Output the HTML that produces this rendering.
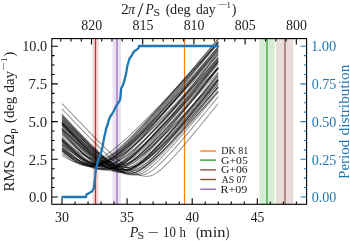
<!DOCTYPE html><html><head><meta charset="utf-8"><style>html,body{margin:0;padding:0;background:#fff;}svg{display:block;will-change:transform;}text{font-family:"Liberation Serif",serif;fill:#222;}</style></head><body>
<svg width="350" height="241" viewBox="0 0 350 241">
<rect width="350" height="241" fill="#fff"/>
<rect x="92.6" y="38.6" width="5.90" height="165.70" fill="#d62728" fill-opacity="0.2"/>
<rect x="112.6" y="38.6" width="8.40" height="165.70" fill="#9467bd" fill-opacity="0.2"/>
<rect x="259.4" y="38.6" width="15.40" height="165.70" fill="#2ca02c" fill-opacity="0.2"/>
<rect x="276.0" y="38.6" width="17.50" height="165.70" fill="#8c564b" fill-opacity="0.2"/>
<line x1="184.5" y1="38.6" x2="184.5" y2="204.3" stroke="#ff7f0e" stroke-width="1.2"/>
<line x1="267.0" y1="38.6" x2="267.0" y2="204.3" stroke="#2ca02c" stroke-width="1.2"/>
<line x1="285.0" y1="38.6" x2="285.0" y2="204.3" stroke="#8c564b" stroke-width="1.2"/>
<line x1="95.5" y1="38.6" x2="95.5" y2="204.3" stroke="#d62728" stroke-width="1.2"/>
<line x1="117.0" y1="38.6" x2="117.0" y2="204.3" stroke="#9467bd" stroke-width="1.2"/>
<clipPath id="ax"><rect x="51.8" y="38.6" width="254.80" height="165.70"/></clipPath>
<g clip-path="url(#ax)" fill="none" stroke="#000" stroke-opacity="0.42" stroke-width="1.05"><polyline points="62.00,152.83 63.63,154.19 65.25,155.51 66.88,156.78 68.51,157.99 70.14,159.14 71.77,160.22 73.39,161.23 75.02,162.17 76.65,163.01 78.28,163.77 79.90,164.42 81.53,164.98 83.16,165.42 84.78,165.75 86.41,165.96 88.04,166.05 89.67,166.02 91.30,165.87 92.92,165.59 94.55,165.20 96.18,164.70 97.81,164.09 99.43,163.38 101.06,162.58 102.69,161.69 104.31,160.71 105.94,159.66 107.57,158.54 109.20,157.35 110.82,156.11 112.45,154.82 114.08,153.47 115.71,152.09 117.34,150.66 118.96,149.20 120.59,147.70 122.22,146.17 123.84,144.62 125.47,143.04 127.10,141.44 128.73,139.82 130.36,138.17 131.98,136.51 133.61,134.84 135.24,133.14 136.87,131.44 138.49,129.72 140.12,127.99 141.75,126.25 143.38,124.50 145.00,122.74 146.63,120.97 148.26,119.19 149.88,117.40 151.51,115.61 153.14,113.81 154.77,112.00 156.39,110.19 158.02,108.38 159.65,106.55 161.28,104.73 162.91,102.89 164.53,101.06 166.16,99.22 167.79,97.37 169.41,95.52 171.04,93.67 172.67,91.82 174.30,89.96 175.93,88.10 177.55,86.24 179.18,84.37 180.81,82.50 182.44,80.63 184.06,78.76 185.69,76.88 187.32,75.00 188.94,73.12 190.57,71.24 192.20,69.36 193.83,67.47 195.45,65.59 197.08,63.70 198.71,61.81 200.34,59.92 201.97,58.02 203.59,56.13 205.22,54.24 206.85,52.34 208.47,50.44 210.10,48.54 211.73,46.64 213.36,44.74 214.98,42.84 216.61,40.94 218.24,39.03"/><polyline points="62.00,155.23 63.63,156.31 65.25,157.33 66.88,158.29 68.51,159.18 70.14,160.00 71.77,160.74 73.39,161.39 75.02,161.96 76.65,162.43 78.28,162.81 79.90,163.09 81.53,163.27 83.16,163.34 84.78,163.31 86.41,163.18 88.04,162.96 89.67,162.64 91.30,162.23 92.92,161.73 94.55,161.14 96.18,160.47 97.81,159.73 99.43,158.91 101.06,158.03 102.69,157.08 104.31,156.08 105.94,155.02 107.57,153.91 109.20,152.75 110.82,151.55 112.45,150.31 114.08,149.03 115.71,147.72 117.34,146.38 118.96,145.01 120.59,143.61 122.22,142.19 123.84,140.74 125.47,139.27 127.10,137.79 128.73,136.28 130.36,134.76 131.98,133.23 133.61,131.68 135.24,130.11 136.87,128.54 138.49,126.95 140.12,125.35 141.75,123.74 143.38,122.12 145.00,120.49 146.63,118.86 148.26,117.21 149.88,115.56 151.51,113.90 153.14,112.24 154.77,110.57 156.39,108.89 158.02,107.21 159.65,105.52 161.28,103.83 162.91,102.13 164.53,100.43 166.16,98.72 167.79,97.02 169.41,95.30 171.04,93.59 172.67,91.87 174.30,90.14 175.93,88.42 177.55,86.69 179.18,84.95 180.81,83.22 182.44,81.48 184.06,79.74 185.69,78.00 187.32,76.26 188.94,74.51 190.57,72.76 192.20,71.01 193.83,69.26 195.45,67.50 197.08,65.75 198.71,63.99 200.34,62.23 201.97,60.47 203.59,58.71 205.22,56.95 206.85,55.18 208.47,53.42 210.10,51.65 211.73,49.88 213.36,48.11 214.98,46.34 216.61,44.57 218.24,42.79"/><polyline points="62.00,150.76 63.63,152.16 65.25,153.52 66.88,154.84 68.51,156.12 70.14,157.35 71.77,158.53 73.39,159.66 75.02,160.72 76.65,161.71 78.28,162.63 79.90,163.47 81.53,164.22 83.16,164.88 84.78,165.44 86.41,165.90 88.04,166.25 89.67,166.50 91.30,166.62 92.92,166.63 94.55,166.52 96.18,166.28 97.81,165.91 99.43,165.43 101.06,164.84 102.69,164.14 104.31,163.34 105.94,162.44 107.57,161.46 109.20,160.41 110.82,159.27 112.45,158.07 114.08,156.82 115.71,155.50 117.34,154.14 118.96,152.73 120.59,151.28 122.22,149.80 123.84,148.28 125.47,146.72 127.10,145.15 128.73,143.54 130.36,141.91 131.98,140.26 133.61,138.59 135.24,136.91 136.87,135.21 138.49,133.49 140.12,131.76 141.75,130.01 143.38,128.25 145.00,126.49 146.63,124.71 148.26,122.92 149.88,121.13 151.51,119.32 153.14,117.51 154.77,115.69 156.39,113.87 158.02,112.04 159.65,110.20 161.28,108.36 162.91,106.51 164.53,104.66 166.16,102.80 167.79,100.94 169.41,99.07 171.04,97.20 172.67,95.33 174.30,93.45 175.93,91.57 177.55,89.69 179.18,87.81 180.81,85.92 182.44,84.03 184.06,82.14 185.69,80.24 187.32,78.34 188.94,76.44 190.57,74.54 192.20,72.64 193.83,70.73 195.45,68.82 197.08,66.92 198.71,65.01 200.34,63.09 201.97,61.18 203.59,59.26 205.22,57.35 206.85,55.43 208.47,53.51 210.10,51.59 211.73,49.67 213.36,47.75 214.98,45.82 216.61,43.90 218.24,41.97"/><polyline points="62.00,150.97 63.63,152.42 65.25,153.82 66.88,155.16 68.51,156.44 70.14,157.66 71.77,158.80 73.39,159.86 75.02,160.84 76.65,161.72 78.28,162.49 79.90,163.16 81.53,163.71 83.16,164.14 84.78,164.45 86.41,164.62 88.04,164.67 89.67,164.59 91.30,164.41 92.92,164.11 94.55,163.71 96.18,163.21 97.81,162.61 99.43,161.92 101.06,161.14 102.69,160.27 104.31,159.34 105.94,158.33 107.57,157.25 109.20,156.12 110.82,154.93 112.45,153.69 114.08,152.40 115.71,151.08 117.34,149.71 118.96,148.30 120.59,146.87 122.22,145.40 123.84,143.91 125.47,142.39 127.10,140.85 128.73,139.29 130.36,137.70 131.98,136.10 133.61,134.48 135.24,132.85 136.87,131.20 138.49,129.54 140.12,127.87 141.75,126.19 143.38,124.49 145.00,122.79 146.63,121.07 148.26,119.35 149.88,117.62 151.51,115.88 153.14,114.14 154.77,112.38 156.39,110.63 158.02,108.86 159.65,107.09 161.28,105.32 162.91,103.54 164.53,101.76 166.16,99.97 167.79,98.17 169.41,96.38 171.04,94.58 172.67,92.77 174.30,90.97 175.93,89.16 177.55,87.34 179.18,85.53 180.81,83.71 182.44,81.89 184.06,80.06 185.69,78.24 187.32,76.41 188.94,74.58 190.57,72.74 192.20,70.91 193.83,69.07 195.45,67.23 197.08,65.39 198.71,63.55 200.34,61.71 201.97,59.86 203.59,58.02 205.22,56.17 206.85,54.32 208.47,52.47 210.10,50.62 211.73,48.77 213.36,46.91 214.98,45.06 216.61,43.20 218.24,41.34"/><polyline points="62.00,148.79 63.63,150.32 65.25,151.81 66.88,153.26 68.51,154.65 70.14,155.99 71.77,157.27 73.39,158.47 75.02,159.60 76.65,160.65 78.28,161.60 79.90,162.46 81.53,163.21 83.16,163.85 84.78,164.37 86.41,164.77 88.04,165.04 89.67,165.17 91.30,165.18 92.92,165.06 94.55,164.83 96.18,164.48 97.81,164.03 99.43,163.47 101.06,162.81 102.69,162.05 104.31,161.21 105.94,160.29 107.57,159.29 109.20,158.22 110.82,157.08 112.45,155.88 114.08,154.64 115.71,153.34 117.34,151.99 118.96,150.61 120.59,149.18 122.22,147.73 123.84,146.24 125.47,144.72 127.10,143.18 128.73,141.61 130.36,140.02 131.98,138.41 133.61,136.78 135.24,135.13 136.87,133.47 138.49,131.79 140.12,130.10 141.75,128.39 143.38,126.68 145.00,124.95 146.63,123.21 148.26,121.47 149.88,119.71 151.51,117.95 153.14,116.18 154.77,114.40 156.39,112.62 158.02,110.83 159.65,109.03 161.28,107.23 162.91,105.42 164.53,103.61 166.16,101.79 167.79,99.97 169.41,98.15 171.04,96.32 172.67,94.48 174.30,92.65 175.93,90.81 177.55,88.97 179.18,87.12 180.81,85.27 182.44,83.42 184.06,81.57 185.69,79.71 187.32,77.85 188.94,75.99 190.57,74.13 192.20,72.26 193.83,70.39 195.45,68.53 197.08,66.65 198.71,64.78 200.34,62.91 201.97,61.03 203.59,59.16 205.22,57.28 206.85,55.40 208.47,53.52 210.10,51.63 211.73,49.75 213.36,47.86 214.98,45.98 216.61,44.09 218.24,42.20"/><polyline points="62.00,138.26 63.63,139.83 65.25,141.36 66.88,142.85 68.51,144.31 70.14,145.72 71.77,147.09 73.39,148.40 75.02,149.66 76.65,150.86 78.28,152.00 79.90,153.07 81.53,154.06 83.16,154.97 84.78,155.80 86.41,156.54 88.04,157.19 89.67,157.73 91.30,158.17 92.92,158.50 94.55,158.73 96.18,158.84 97.81,158.84 99.43,158.74 101.06,158.54 102.69,158.24 104.31,157.85 105.94,157.37 107.57,156.80 109.20,156.15 110.82,155.42 112.45,154.61 114.08,153.73 115.71,152.78 117.34,151.77 118.96,150.69 120.59,149.57 122.22,148.39 123.84,147.16 125.47,145.89 127.10,144.58 128.73,143.23 130.36,141.85 131.98,140.43 133.61,138.98 135.24,137.51 136.87,136.00 138.49,134.48 140.12,132.93 141.75,131.36 143.38,129.77 145.00,128.16 146.63,126.54 148.26,124.90 149.88,123.25 151.51,121.58 153.14,119.90 154.77,118.21 156.39,116.50 158.02,114.79 159.65,113.06 161.28,111.33 162.91,109.59 164.53,107.84 166.16,106.08 167.79,104.32 169.41,102.54 171.04,100.77 172.67,98.98 174.30,97.19 175.93,95.39 177.55,93.59 179.18,91.79 180.81,89.98 182.44,88.16 184.06,86.34 185.69,84.52 187.32,82.69 188.94,80.86 190.57,79.02 192.20,77.18 193.83,75.34 195.45,73.50 197.08,71.65 198.71,69.80 200.34,67.95 201.97,66.09 203.59,64.24 205.22,62.38 206.85,60.51 208.47,58.65 210.10,56.78 211.73,54.91 213.36,53.04 214.98,51.17 216.61,49.30 218.24,47.42"/><polyline points="62.00,149.31 63.63,150.85 65.25,152.35 66.88,153.81 68.51,155.22 70.14,156.57 71.77,157.87 73.39,159.10 75.02,160.26 76.65,161.34 78.28,162.33 79.90,163.23 81.53,164.03 83.16,164.72 84.78,165.29 86.41,165.74 88.04,166.06 89.67,166.25 91.30,166.31 92.92,166.23 94.55,166.03 96.18,165.70 97.81,165.25 99.43,164.69 101.06,164.01 102.69,163.23 104.31,162.36 105.94,161.39 107.57,160.34 109.20,159.22 110.82,158.03 112.45,156.77 114.08,155.46 115.71,154.10 117.34,152.69 118.96,151.23 120.59,149.74 122.22,148.21 123.84,146.65 125.47,145.06 127.10,143.45 128.73,141.81 130.36,140.14 131.98,138.46 133.61,136.76 135.24,135.04 136.87,133.31 138.49,131.56 140.12,129.80 141.75,128.03 143.38,126.24 145.00,124.44 146.63,122.64 148.26,120.82 149.88,119.00 151.51,117.17 153.14,115.33 154.77,113.49 156.39,111.64 158.02,109.78 159.65,107.92 161.28,106.05 162.91,104.18 164.53,102.30 166.16,100.42 167.79,98.53 169.41,96.64 171.04,94.75 172.67,92.85 174.30,90.95 175.93,89.05 177.55,87.14 179.18,85.23 180.81,83.32 182.44,81.40 184.06,79.49 185.69,77.57 187.32,75.65 188.94,73.72 190.57,71.80 192.20,69.87 193.83,67.94 195.45,66.01 197.08,64.08 198.71,62.14 200.34,60.21 201.97,58.27 203.59,56.33 205.22,54.39 206.85,52.45 208.47,50.51 210.10,48.56 211.73,46.62 213.36,44.67 214.98,42.73 216.61,40.78 218.24,38.83"/><polyline points="62.00,150.59 63.63,151.95 65.25,153.28 66.88,154.56 68.51,155.81 70.14,157.00 71.77,158.15 73.39,159.24 75.02,160.27 76.65,161.23 78.28,162.12 79.90,162.93 81.53,163.66 83.16,164.30 84.78,164.84 86.41,165.29 88.04,165.63 89.67,165.87 91.30,166.00 92.92,166.01 94.55,165.92 96.18,165.71 97.81,165.40 99.43,164.98 101.06,164.47 102.69,163.85 104.31,163.15 105.94,162.36 107.57,161.49 109.20,160.54 110.82,159.53 112.45,158.45 114.08,157.32 115.71,156.14 117.34,154.90 118.96,153.62 120.59,152.30 122.22,150.95 123.84,149.56 125.47,148.13 127.10,146.68 128.73,145.21 130.36,143.71 131.98,142.19 133.61,140.64 135.24,139.08 136.87,137.51 138.49,135.91 140.12,134.31 141.75,132.69 143.38,131.05 145.00,129.41 146.63,127.75 148.26,126.09 149.88,124.41 151.51,122.73 153.14,121.04 154.77,119.34 156.39,117.63 158.02,115.92 159.65,114.20 161.28,112.47 162.91,110.74 164.53,109.01 166.16,107.27 167.79,105.52 169.41,103.77 171.04,102.02 172.67,100.26 174.30,98.50 175.93,96.73 177.55,94.97 179.18,93.20 180.81,91.42 182.44,89.64 184.06,87.87 185.69,86.08 187.32,84.30 188.94,82.51 190.57,80.72 192.20,78.93 193.83,77.14 195.45,75.34 197.08,73.55 198.71,71.75 200.34,69.95 201.97,68.15 203.59,66.34 205.22,64.54 206.85,62.73 208.47,60.93 210.10,59.12 211.73,57.31 213.36,55.49 214.98,53.68 216.61,51.87 218.24,50.05"/><polyline points="62.00,147.97 63.63,149.47 65.25,150.94 66.88,152.37 68.51,153.75 70.14,155.09 71.77,156.38 73.39,157.61 75.02,158.77 76.65,159.87 78.28,160.89 79.90,161.83 81.53,162.68 83.16,163.44 84.78,164.10 86.41,164.64 88.04,165.08 89.67,165.39 91.30,165.59 92.92,165.66 94.55,165.62 96.18,165.47 97.81,165.22 99.43,164.87 101.06,164.43 102.69,163.89 104.31,163.27 105.94,162.56 107.57,161.77 109.20,160.91 110.82,159.99 112.45,159.00 114.08,157.95 115.71,156.85 117.34,155.70 118.96,154.50 120.59,153.26 122.22,151.99 123.84,150.68 125.47,149.33 127.10,147.96 128.73,146.56 130.36,145.14 131.98,143.69 133.61,142.22 135.24,140.74 136.87,139.23 138.49,137.71 140.12,136.17 141.75,134.62 143.38,133.05 145.00,131.48 146.63,129.89 148.26,128.29 149.88,126.68 151.51,125.06 153.14,123.44 154.77,121.80 156.39,120.16 158.02,118.51 159.65,116.86 161.28,115.20 162.91,113.53 164.53,111.86 166.16,110.18 167.79,108.49 169.41,106.81 171.04,105.11 172.67,103.42 174.30,101.72 175.93,100.01 177.55,98.31 179.18,96.60 180.81,94.88 182.44,93.17 184.06,91.45 185.69,89.72 187.32,88.00 188.94,86.27 190.57,84.54 192.20,82.81 193.83,81.08 195.45,79.34 197.08,77.60 198.71,75.86 200.34,74.12 201.97,72.38 203.59,70.63 205.22,68.89 206.85,67.14 208.47,65.39 210.10,63.64 211.73,61.88 213.36,60.13 214.98,58.38 216.61,56.62 218.24,54.86"/><polyline points="62.00,143.81 63.63,145.25 65.25,146.66 66.88,148.04 68.51,149.38 70.14,150.68 71.77,151.93 73.39,153.14 75.02,154.30 76.65,155.40 78.28,156.45 79.90,157.42 81.53,158.33 83.16,159.16 84.78,159.92 86.41,160.59 88.04,161.17 89.67,161.65 91.30,162.04 92.92,162.32 94.55,162.51 96.18,162.58 97.81,162.55 99.43,162.41 101.06,162.16 102.69,161.81 104.31,161.34 105.94,160.78 107.57,160.12 109.20,159.38 110.82,158.54 112.45,157.63 114.08,156.64 115.71,155.58 117.34,154.46 118.96,153.28 120.59,152.05 122.22,150.77 123.84,149.44 125.47,148.06 127.10,146.65 128.73,145.21 130.36,143.73 131.98,142.22 133.61,140.68 135.24,139.12 136.87,137.53 138.49,135.92 140.12,134.30 141.75,132.65 143.38,130.99 145.00,129.31 146.63,127.61 148.26,125.91 149.88,124.19 151.51,122.46 153.14,120.71 154.77,118.96 156.39,117.20 158.02,115.43 159.65,113.65 161.28,111.86 162.91,110.07 164.53,108.26 166.16,106.46 167.79,104.64 169.41,102.82 171.04,101.00 172.67,99.17 174.30,97.33 175.93,95.49 177.55,93.65 179.18,91.80 180.81,89.95 182.44,88.09 184.06,86.23 185.69,84.37 187.32,82.50 188.94,80.63 190.57,78.76 192.20,76.88 193.83,75.01 195.45,73.13 197.08,71.24 198.71,69.36 200.34,67.47 201.97,65.58 203.59,63.69 205.22,61.80 206.85,59.91 208.47,58.01 210.10,56.11 211.73,54.21 213.36,52.31 214.98,50.41 216.61,48.50 218.24,46.60"/><polyline points="62.00,147.58 63.63,148.99 65.25,150.36 66.88,151.70 68.51,153.00 70.14,154.25 71.77,155.45 73.39,156.60 75.02,157.69 76.65,158.72 78.28,159.67 79.90,160.56 81.53,161.36 83.16,162.08 84.78,162.70 86.41,163.23 88.04,163.66 89.67,163.99 91.30,164.21 92.92,164.32 94.55,164.32 96.18,164.22 97.81,164.01 99.43,163.70 101.06,163.30 102.69,162.80 104.31,162.21 105.94,161.54 107.57,160.78 109.20,159.95 110.82,159.05 112.45,158.09 114.08,157.06 115.71,155.97 117.34,154.84 118.96,153.65 120.59,152.42 122.22,151.15 123.84,149.85 125.47,148.51 127.10,147.13 128.73,145.73 130.36,144.30 131.98,142.85 133.61,141.37 135.24,139.87 136.87,138.36 138.49,136.82 140.12,135.27 141.75,133.71 143.38,132.12 145.00,130.53 146.63,128.93 148.26,127.31 149.88,125.68 151.51,124.04 153.14,122.39 154.77,120.74 156.39,119.07 158.02,117.40 159.65,115.72 161.28,114.04 162.91,112.35 164.53,110.65 166.16,108.95 167.79,107.24 169.41,105.52 171.04,103.81 172.67,102.08 174.30,100.36 175.93,98.62 177.55,96.89 179.18,95.15 180.81,93.41 182.44,91.66 184.06,89.92 185.69,88.17 187.32,86.41 188.94,84.65 190.57,82.90 192.20,81.13 193.83,79.37 195.45,77.60 197.08,75.84 198.71,74.07 200.34,72.29 201.97,70.52 203.59,68.74 205.22,66.97 206.85,65.19 208.47,63.41 210.10,61.63 211.73,59.84 213.36,58.06 214.98,56.27 216.61,54.48 218.24,52.69"/><polyline points="62.00,149.45 63.63,150.71 65.25,151.94 66.88,153.13 68.51,154.28 70.14,155.39 71.77,156.46 73.39,157.47 75.02,158.43 76.65,159.34 78.28,160.18 79.90,160.96 81.53,161.66 83.16,162.30 84.78,162.85 86.41,163.32 88.04,163.70 89.67,164.00 91.30,164.20 92.92,164.31 94.55,164.32 96.18,164.23 97.81,164.01 99.43,163.68 101.06,163.24 102.69,162.70 104.31,162.05 105.94,161.31 107.57,160.48 109.20,159.56 110.82,158.56 112.45,157.49 114.08,156.36 115.71,155.16 117.34,153.91 118.96,152.61 120.59,151.26 122.22,149.87 123.84,148.44 125.47,146.97 127.10,145.47 128.73,143.94 130.36,142.38 131.98,140.80 133.61,139.19 135.24,137.56 136.87,135.92 138.49,134.25 140.12,132.57 141.75,130.87 143.38,129.16 145.00,127.44 146.63,125.70 148.26,123.95 149.88,122.20 151.51,120.43 153.14,118.65 154.77,116.86 156.39,115.07 158.02,113.27 159.65,111.46 161.28,109.65 162.91,107.83 164.53,106.00 166.16,104.17 167.79,102.33 169.41,100.49 171.04,98.64 172.67,96.79 174.30,94.94 175.93,93.08 177.55,91.22 179.18,89.35 180.81,87.48 182.44,85.61 184.06,83.73 185.69,81.85 187.32,79.97 188.94,78.09 190.57,76.20 192.20,74.32 193.83,72.43 195.45,70.53 197.08,68.64 198.71,66.74 200.34,64.84 201.97,62.94 203.59,61.04 205.22,59.14 206.85,57.23 208.47,55.33 210.10,53.42 211.73,51.51 213.36,49.60 214.98,47.69 216.61,45.78 218.24,43.86"/><polyline points="62.00,147.71 63.63,149.13 65.25,150.52 66.88,151.87 68.51,153.20 70.14,154.48 71.77,155.72 73.39,156.92 75.02,158.07 76.65,159.16 78.28,160.19 79.90,161.16 81.53,162.06 83.16,162.88 84.78,163.63 86.41,164.28 88.04,164.85 89.67,165.32 91.30,165.68 92.92,165.95 94.55,166.10 96.18,166.15 97.81,166.08 99.43,165.90 101.06,165.60 102.69,165.19 104.31,164.68 105.94,164.06 107.57,163.34 109.20,162.54 110.82,161.65 112.45,160.68 114.08,159.65 115.71,158.54 117.34,157.38 118.96,156.15 120.59,154.88 122.22,153.57 123.84,152.21 125.47,150.81 127.10,149.37 128.73,147.91 130.36,146.42 131.98,144.89 133.61,143.35 135.24,141.78 136.87,140.19 138.49,138.59 140.12,136.96 141.75,135.32 143.38,133.67 145.00,132.00 146.63,130.32 148.26,128.63 149.88,126.92 151.51,125.21 153.14,123.49 154.77,121.76 156.39,120.02 158.02,118.27 159.65,116.52 161.28,114.76 162.91,112.99 164.53,111.22 166.16,109.44 167.79,107.66 169.41,105.87 171.04,104.08 172.67,102.28 174.30,100.48 175.93,98.67 177.55,96.86 179.18,95.05 180.81,93.24 182.44,91.42 184.06,89.60 185.69,87.78 187.32,85.95 188.94,84.12 190.57,82.29 192.20,80.45 193.83,78.62 195.45,76.78 197.08,74.94 198.71,73.10 200.34,71.26 201.97,69.41 203.59,67.56 205.22,65.71 206.85,63.86 208.47,62.01 210.10,60.16 211.73,58.31 213.36,56.45 214.98,54.59 216.61,52.74 218.24,50.88"/><polyline points="62.00,140.78 63.63,142.40 65.25,144.00 66.88,145.56 68.51,147.10 70.14,148.60 71.77,150.06 73.39,151.48 75.02,152.86 76.65,154.18 78.28,155.45 79.90,156.66 81.53,157.80 83.16,158.87 84.78,159.86 86.41,160.77 88.04,161.59 89.67,162.31 91.30,162.92 92.92,163.43 94.55,163.82 96.18,164.09 97.81,164.24 99.43,164.27 101.06,164.19 102.69,164.00 104.31,163.71 105.94,163.33 107.57,162.84 109.20,162.26 110.82,161.60 112.45,160.85 114.08,160.02 115.71,159.12 117.34,158.15 118.96,157.12 120.59,156.03 122.22,154.89 123.84,153.70 125.47,152.46 127.10,151.18 128.73,149.86 130.36,148.51 131.98,147.13 133.61,145.71 135.24,144.27 136.87,142.80 138.49,141.31 140.12,139.80 141.75,138.26 143.38,136.71 145.00,135.15 146.63,133.56 148.26,131.97 149.88,130.36 151.51,128.73 153.14,127.10 154.77,125.45 156.39,123.80 158.02,122.13 159.65,120.46 161.28,118.77 162.91,117.08 164.53,115.39 166.16,113.68 167.79,111.97 169.41,110.26 171.04,108.54 172.67,106.81 174.30,105.08 175.93,103.34 177.55,101.60 179.18,99.85 180.81,98.10 182.44,96.35 184.06,94.59 185.69,92.83 187.32,91.07 188.94,89.30 190.57,87.53 192.20,85.76 193.83,83.98 195.45,82.20 197.08,80.42 198.71,78.64 200.34,76.85 201.97,75.07 203.59,73.28 205.22,71.49 206.85,69.69 208.47,67.90 210.10,66.10 211.73,64.30 213.36,62.50 214.98,60.70 216.61,58.90 218.24,57.10"/><polyline points="62.00,144.34 63.63,145.76 65.25,147.16 66.88,148.53 68.51,149.87 70.14,151.18 71.77,152.45 73.39,153.68 75.02,154.86 76.65,156.00 78.28,157.08 79.90,158.12 81.53,159.09 83.16,159.99 84.78,160.83 86.41,161.59 88.04,162.27 89.67,162.87 91.30,163.38 92.92,163.79 94.55,164.11 96.18,164.33 97.81,164.45 99.43,164.46 101.06,164.35 102.69,164.11 104.31,163.74 105.94,163.25 107.57,162.64 109.20,161.92 110.82,161.09 112.45,160.17 114.08,159.15 115.71,158.05 117.34,156.88 118.96,155.63 120.59,154.32 122.22,152.95 123.84,151.53 125.47,150.06 127.10,148.55 128.73,146.99 130.36,145.41 131.98,143.78 133.61,142.13 135.24,140.45 136.87,138.74 138.49,137.01 140.12,135.27 141.75,133.50 143.38,131.71 145.00,129.91 146.63,128.09 148.26,126.26 149.88,124.41 151.51,122.56 153.14,120.69 154.77,118.81 156.39,116.92 158.02,115.03 159.65,113.12 161.28,111.21 162.91,109.29 164.53,107.37 166.16,105.44 167.79,103.50 169.41,101.55 171.04,99.61 172.67,97.65 174.30,95.69 175.93,93.73 177.55,91.76 179.18,89.79 180.81,87.82 182.44,85.84 184.06,83.86 185.69,81.88 187.32,79.89 188.94,77.90 190.57,75.91 192.20,73.91 193.83,71.91 195.45,69.91 197.08,67.91 198.71,65.91 200.34,63.90 201.97,61.89 203.59,59.88 205.22,57.87 206.85,55.86 208.47,53.84 210.10,51.82 211.73,49.81 213.36,47.79 214.98,45.77 216.61,43.74 218.24,41.72"/><polyline points="62.00,141.21 63.63,142.77 65.25,144.31 66.88,145.82 68.51,147.31 70.14,148.76 71.77,150.19 73.39,151.57 75.02,152.92 76.65,154.23 78.28,155.49 79.90,156.69 81.53,157.84 83.16,158.93 84.78,159.96 86.41,160.91 88.04,161.78 89.67,162.57 91.30,163.27 92.92,163.87 94.55,164.37 96.18,164.77 97.81,165.06 99.43,165.23 101.06,165.29 102.69,165.23 104.31,165.03 105.94,164.71 107.57,164.27 109.20,163.71 110.82,163.03 112.45,162.25 114.08,161.37 115.71,160.40 117.34,159.34 118.96,158.20 120.59,156.99 122.22,155.72 123.84,154.39 125.47,153.00 127.10,151.57 128.73,150.09 130.36,148.57 131.98,147.01 133.61,145.42 135.24,143.80 136.87,142.16 138.49,140.48 140.12,138.79 141.75,137.07 143.38,135.33 145.00,133.58 146.63,131.81 148.26,130.02 149.88,128.22 151.51,126.41 153.14,124.58 154.77,122.75 156.39,120.90 158.02,119.05 159.65,117.18 161.28,115.31 162.91,113.43 164.53,111.54 166.16,109.65 167.79,107.75 169.41,105.84 171.04,103.93 172.67,102.02 174.30,100.09 175.93,98.17 177.55,96.24 179.18,94.30 180.81,92.37 182.44,90.42 184.06,88.48 185.69,86.53 187.32,84.58 188.94,82.62 190.57,80.67 192.20,78.71 193.83,76.74 195.45,74.78 197.08,72.81 198.71,70.84 200.34,68.87 201.97,66.90 203.59,64.92 205.22,62.94 206.85,60.97 208.47,58.98 210.10,57.00 211.73,55.02 213.36,53.03 214.98,51.05 216.61,49.06 218.24,47.07"/><polyline points="62.00,134.61 63.63,136.31 65.25,137.99 66.88,139.64 68.51,141.27 70.14,142.86 71.77,144.41 73.39,145.93 75.02,147.40 76.65,148.83 78.28,150.21 79.90,151.53 81.53,152.80 83.16,154.00 84.78,155.13 86.41,156.18 88.04,157.15 89.67,158.03 91.30,158.82 92.92,159.51 94.55,160.09 96.18,160.56 97.81,160.91 99.43,161.15 101.06,161.26 102.69,161.26 104.31,161.15 105.94,160.95 107.57,160.66 109.20,160.27 110.82,159.79 112.45,159.23 114.08,158.59 115.71,157.86 117.34,157.06 118.96,156.20 120.59,155.26 122.22,154.27 123.84,153.22 125.47,152.11 127.10,150.96 128.73,149.76 130.36,148.52 131.98,147.24 133.61,145.93 135.24,144.58 136.87,143.20 138.49,141.79 140.12,140.35 141.75,138.89 143.38,137.41 145.00,135.91 146.63,134.39 148.26,132.85 149.88,131.29 151.51,129.72 153.14,128.13 154.77,126.53 156.39,124.91 158.02,123.29 159.65,121.65 161.28,120.00 162.91,118.35 164.53,116.68 166.16,115.00 167.79,113.32 169.41,111.63 171.04,109.93 172.67,108.23 174.30,106.52 175.93,104.80 177.55,103.08 179.18,101.35 180.81,99.62 182.44,97.88 184.06,96.14 185.69,94.39 187.32,92.64 188.94,90.89 190.57,89.13 192.20,87.37 193.83,85.60 195.45,83.84 197.08,82.06 198.71,80.29 200.34,78.51 201.97,76.73 203.59,74.95 205.22,73.17 206.85,71.38 208.47,69.59 210.10,67.80 211.73,66.01 213.36,64.21 214.98,62.41 216.61,60.61 218.24,58.81"/><polyline points="62.00,139.71 63.63,141.33 65.25,142.93 66.88,144.51 68.51,146.06 70.14,147.59 71.77,149.08 73.39,150.54 75.02,151.96 76.65,153.35 78.28,154.69 79.90,155.98 81.53,157.21 83.16,158.39 84.78,159.51 86.41,160.56 88.04,161.53 89.67,162.42 91.30,163.22 92.92,163.92 94.55,164.53 96.18,165.03 97.81,165.41 99.43,165.68 101.06,165.83 102.69,165.86 104.31,165.78 105.94,165.59 107.57,165.28 109.20,164.88 110.82,164.37 112.45,163.77 114.08,163.07 115.71,162.29 117.34,161.43 118.96,160.49 120.59,159.49 122.22,158.42 123.84,157.29 125.47,156.11 127.10,154.89 128.73,153.61 130.36,152.30 131.98,150.94 133.61,149.56 135.24,148.14 136.87,146.69 138.49,145.22 140.12,143.72 141.75,142.20 143.38,140.66 145.00,139.10 146.63,137.53 148.26,135.93 149.88,134.33 151.51,132.71 153.14,131.07 154.77,129.43 156.39,127.77 158.02,126.11 159.65,124.43 161.28,122.75 162.91,121.06 164.53,119.36 166.16,117.65 167.79,115.94 169.41,114.22 171.04,112.49 172.67,110.76 174.30,109.02 175.93,107.28 177.55,105.54 179.18,103.78 180.81,102.03 182.44,100.27 184.06,98.51 185.69,96.74 187.32,94.97 188.94,93.20 190.57,91.43 192.20,89.65 193.83,87.87 195.45,86.08 197.08,84.30 198.71,82.51 200.34,80.72 201.97,78.93 203.59,77.13 205.22,75.34 206.85,73.54 208.47,71.74 210.10,69.94 211.73,68.13 213.36,66.33 214.98,64.52 216.61,62.71 218.24,60.90"/><polyline points="62.00,145.67 63.63,147.23 65.25,148.76 66.88,150.26 68.51,151.74 70.14,153.18 71.77,154.59 73.39,155.96 75.02,157.29 76.65,158.56 78.28,159.79 79.90,160.96 81.53,162.07 83.16,163.10 84.78,164.06 86.41,164.94 88.04,165.73 89.67,166.42 91.30,167.01 92.92,167.48 94.55,167.85 96.18,168.09 97.81,168.21 99.43,168.20 101.06,168.06 102.69,167.79 104.31,167.39 105.94,166.86 107.57,166.21 109.20,165.45 110.82,164.59 112.45,163.64 114.08,162.59 115.71,161.47 117.34,160.28 118.96,159.02 120.59,157.70 122.22,156.32 123.84,154.90 125.47,153.44 127.10,151.93 128.73,150.40 130.36,148.82 131.98,147.22 133.61,145.60 135.24,143.95 136.87,142.27 138.49,140.58 140.12,138.87 141.75,137.15 143.38,135.40 145.00,133.65 146.63,131.88 148.26,130.10 149.88,128.31 151.51,126.51 153.14,124.70 154.77,122.88 156.39,121.05 158.02,119.22 159.65,117.38 161.28,115.53 162.91,113.68 164.53,111.82 166.16,109.95 167.79,108.08 169.41,106.21 171.04,104.33 172.67,102.45 174.30,100.56 175.93,98.67 177.55,96.78 179.18,94.88 180.81,92.98 182.44,91.08 184.06,89.18 185.69,87.27 187.32,85.36 188.94,83.45 190.57,81.53 192.20,79.62 193.83,77.70 195.45,75.78 197.08,73.85 198.71,71.93 200.34,70.00 201.97,68.08 203.59,66.15 205.22,64.22 206.85,62.29 208.47,60.35 210.10,58.42 211.73,56.48 213.36,54.55 214.98,52.61 216.61,50.67 218.24,48.73"/><polyline points="62.00,138.07 63.63,139.85 65.25,141.62 66.88,143.37 68.51,145.10 70.14,146.80 71.77,148.48 73.39,150.13 75.02,151.75 76.65,153.33 78.28,154.88 79.90,156.38 81.53,157.83 83.16,159.23 84.78,160.57 86.41,161.84 88.04,163.04 89.67,164.16 91.30,165.18 92.92,166.10 94.55,166.92 96.18,167.61 97.81,168.18 99.43,168.61 101.06,168.90 102.69,169.05 104.31,169.05 105.94,168.94 107.57,168.71 109.20,168.36 110.82,167.91 112.45,167.36 114.08,166.71 115.71,165.98 117.34,165.15 118.96,164.25 120.59,163.28 122.22,162.24 123.84,161.14 125.47,159.99 127.10,158.78 128.73,157.53 130.36,156.24 131.98,154.92 133.61,153.56 135.24,152.16 136.87,150.75 138.49,149.30 140.12,147.83 141.75,146.34 143.38,144.83 145.00,143.31 146.63,141.76 148.26,140.21 149.88,138.63 151.51,137.05 153.14,135.45 154.77,133.85 156.39,132.23 158.02,130.60 159.65,128.97 161.28,127.33 162.91,125.68 164.53,124.02 166.16,122.36 167.79,120.69 169.41,119.01 171.04,117.33 172.67,115.65 174.30,113.95 175.93,112.26 177.55,110.56 179.18,108.86 180.81,107.15 182.44,105.44 184.06,103.73 185.69,102.01 187.32,100.29 188.94,98.57 190.57,96.85 192.20,95.12 193.83,93.39 195.45,91.66 197.08,89.92 198.71,88.19 200.34,86.45 201.97,84.71 203.59,82.97 205.22,81.22 206.85,79.48 208.47,77.73 210.10,75.98 211.73,74.24 213.36,72.48 214.98,70.73 216.61,68.98 218.24,67.22"/><polyline points="62.00,140.02 63.63,141.62 65.25,143.21 66.88,144.77 68.51,146.31 70.14,147.82 71.77,149.30 73.39,150.75 75.02,152.17 76.65,153.55 78.28,154.89 79.90,156.18 81.53,157.41 83.16,158.60 84.78,159.72 86.41,160.78 88.04,161.76 89.67,162.67 91.30,163.49 92.92,164.22 94.55,164.85 96.18,165.38 97.81,165.80 99.43,166.11 101.06,166.30 102.69,166.37 104.31,166.32 105.94,166.16 107.57,165.88 109.20,165.49 110.82,164.99 112.45,164.38 114.08,163.68 115.71,162.89 117.34,162.01 118.96,161.05 120.59,160.02 122.22,158.93 123.84,157.77 125.47,156.55 127.10,155.29 128.73,153.97 130.36,152.62 131.98,151.23 133.61,149.80 135.24,148.33 136.87,146.84 138.49,145.33 140.12,143.78 141.75,142.22 143.38,140.63 145.00,139.03 146.63,137.41 148.26,135.77 149.88,134.12 151.51,132.45 153.14,130.77 154.77,129.08 156.39,127.38 158.02,125.67 159.65,123.95 161.28,122.22 162.91,120.48 164.53,118.73 166.16,116.98 167.79,115.22 169.41,113.46 171.04,111.69 172.67,109.91 174.30,108.13 175.93,106.34 177.55,104.55 179.18,102.76 180.81,100.96 182.44,99.15 184.06,97.35 185.69,95.54 187.32,93.72 188.94,91.91 190.57,90.09 192.20,88.27 193.83,86.44 195.45,84.61 197.08,82.78 198.71,80.95 200.34,79.12 201.97,77.28 203.59,75.44 205.22,73.60 206.85,71.76 208.47,69.92 210.10,68.07 211.73,66.23 213.36,64.38 214.98,62.53 216.61,60.68 218.24,58.82"/><polyline points="62.00,142.87 63.63,144.43 65.25,145.97 66.88,147.50 68.51,149.00 70.14,150.47 71.77,151.92 73.39,153.34 75.02,154.73 76.65,156.09 78.28,157.41 79.90,158.68 81.53,159.91 83.16,161.08 84.78,162.20 86.41,163.26 88.04,164.25 89.67,165.16 91.30,165.99 92.92,166.73 94.55,167.38 96.18,167.93 97.81,168.37 99.43,168.70 101.06,168.91 102.69,169.00 104.31,168.97 105.94,168.81 107.57,168.52 109.20,168.10 110.82,167.56 112.45,166.91 114.08,166.15 115.71,165.29 117.34,164.34 118.96,163.30 120.59,162.19 122.22,161.01 123.84,159.76 125.47,158.46 127.10,157.11 128.73,155.72 130.36,154.28 131.98,152.80 133.61,151.29 135.24,149.75 136.87,148.18 138.49,146.59 140.12,144.97 141.75,143.34 143.38,141.68 145.00,140.01 146.63,138.32 148.26,136.62 149.88,134.90 151.51,133.17 153.14,131.43 154.77,129.68 156.39,127.92 158.02,126.15 159.65,124.38 161.28,122.59 162.91,120.80 164.53,119.00 166.16,117.20 167.79,115.39 169.41,113.57 171.04,111.75 172.67,109.92 174.30,108.09 175.93,106.26 177.55,104.42 179.18,102.58 180.81,100.74 182.44,98.89 184.06,97.04 185.69,95.18 187.32,93.33 188.94,91.47 190.57,89.60 192.20,87.74 193.83,85.87 195.45,84.00 197.08,82.13 198.71,80.26 200.34,78.39 201.97,76.51 203.59,74.63 205.22,72.75 206.85,70.87 208.47,68.99 210.10,67.10 211.73,65.22 213.36,63.33 214.98,61.44 216.61,59.55 218.24,57.66"/><polyline points="62.00,145.31 63.63,146.88 65.25,148.44 66.88,149.97 68.51,151.47 70.14,152.94 71.77,154.38 73.39,155.78 75.02,157.15 76.65,158.47 78.28,159.74 79.90,160.95 81.53,162.11 83.16,163.20 84.78,164.22 86.41,165.16 88.04,166.01 89.67,166.76 91.30,167.42 92.92,167.97 94.55,168.40 96.18,168.71 97.81,168.90 99.43,168.97 101.06,168.90 102.69,168.69 104.31,168.34 105.94,167.87 107.57,167.27 109.20,166.55 110.82,165.72 112.45,164.79 114.08,163.77 115.71,162.67 117.34,161.48 118.96,160.23 120.59,158.92 122.22,157.55 123.84,156.13 125.47,154.67 127.10,153.16 128.73,151.62 130.36,150.05 131.98,148.44 133.61,146.81 135.24,145.15 136.87,143.48 138.49,141.78 140.12,140.06 141.75,138.33 143.38,136.58 145.00,134.81 146.63,133.04 148.26,131.25 149.88,129.45 151.51,127.64 153.14,125.83 154.77,124.00 156.39,122.17 158.02,120.32 159.65,118.47 161.28,116.62 162.91,114.76 164.53,112.89 166.16,111.02 167.79,109.14 169.41,107.26 171.04,105.38 172.67,103.49 174.30,101.60 175.93,99.70 177.55,97.80 179.18,95.90 180.81,93.99 182.44,92.08 184.06,90.17 185.69,88.25 187.32,86.34 188.94,84.42 190.57,82.50 192.20,80.57 193.83,78.65 195.45,76.72 197.08,74.79 198.71,72.86 200.34,70.93 201.97,69.00 203.59,67.06 205.22,65.13 206.85,63.19 208.47,61.25 210.10,59.31 211.73,57.37 213.36,55.43 214.98,53.48 216.61,51.54 218.24,49.59"/><polyline points="62.00,140.37 63.63,141.94 65.25,143.51 66.88,145.05 68.51,146.58 70.14,148.09 71.77,149.58 73.39,151.05 75.02,152.49 76.65,153.91 78.28,155.29 79.90,156.65 81.53,157.96 83.16,159.24 84.78,160.47 86.41,161.65 88.04,162.78 89.67,163.85 91.30,164.85 92.92,165.78 94.55,166.63 96.18,167.39 97.81,168.06 99.43,168.64 101.06,169.10 102.69,169.46 104.31,169.70 105.94,169.83 107.57,169.83 109.20,169.71 110.82,169.47 112.45,169.10 114.08,168.62 115.71,168.03 117.34,167.34 118.96,166.54 120.59,165.66 122.22,164.70 123.84,163.66 125.47,162.56 127.10,161.39 128.73,160.17 130.36,158.89 131.98,157.57 133.61,156.21 135.24,154.82 136.87,153.39 138.49,151.92 140.12,150.44 141.75,148.92 143.38,147.38 145.00,145.83 146.63,144.25 148.26,142.66 149.88,141.05 151.51,139.42 153.14,137.79 154.77,136.14 156.39,134.48 158.02,132.81 159.65,131.13 161.28,129.44 162.91,127.74 164.53,126.04 166.16,124.33 167.79,122.61 169.41,120.88 171.04,119.15 172.67,117.42 174.30,115.68 175.93,113.93 177.55,112.18 179.18,110.43 180.81,108.67 182.44,106.91 184.06,105.14 185.69,103.38 187.32,101.61 188.94,99.83 190.57,98.06 192.20,96.28 193.83,94.49 195.45,92.71 197.08,90.92 198.71,89.14 200.34,87.34 201.97,85.55 203.59,83.76 205.22,81.96 206.85,80.16 208.47,78.37 210.10,76.57 211.73,74.76 213.36,72.96 214.98,71.15 216.61,69.35 218.24,67.54"/><polyline points="62.00,130.53 63.63,132.42 65.25,134.30 66.88,136.17 68.51,138.02 70.14,139.85 71.77,141.66 73.39,143.45 75.02,145.22 76.65,146.97 78.28,148.68 79.90,150.36 81.53,152.01 83.16,153.62 84.78,155.18 86.41,156.69 88.04,158.15 89.67,159.55 91.30,160.88 92.92,162.14 94.55,163.30 96.18,164.38 97.81,165.35 99.43,166.21 101.06,166.95 102.69,167.55 104.31,168.02 105.94,168.33 107.57,168.50 109.20,168.51 110.82,168.38 112.45,168.13 114.08,167.74 115.71,167.22 117.34,166.59 118.96,165.85 120.59,165.00 122.22,164.06 123.84,163.03 125.47,161.92 127.10,160.73 128.73,159.48 130.36,158.18 131.98,156.82 133.61,155.41 135.24,153.95 136.87,152.46 138.49,150.93 140.12,149.37 141.75,147.79 143.38,146.17 145.00,144.53 146.63,142.87 148.26,141.19 149.88,139.49 151.51,137.78 153.14,136.05 154.77,134.30 156.39,132.55 158.02,130.78 159.65,129.00 161.28,127.21 162.91,125.41 164.53,123.61 166.16,121.79 167.79,119.97 169.41,118.14 171.04,116.31 172.67,114.47 174.30,112.62 175.93,110.77 177.55,108.91 179.18,107.05 180.81,105.18 182.44,103.32 184.06,101.44 185.69,99.56 187.32,97.68 188.94,95.80 190.57,93.91 192.20,92.02 193.83,90.13 195.45,88.24 197.08,86.34 198.71,84.44 200.34,82.54 201.97,80.64 203.59,78.73 205.22,76.82 206.85,74.91 208.47,73.00 210.10,71.09 211.73,69.17 213.36,67.26 214.98,65.34 216.61,63.42 218.24,61.50"/><polyline points="62.00,142.10 63.63,143.70 65.25,145.28 66.88,146.84 68.51,148.38 70.14,149.90 71.77,151.40 73.39,152.87 75.02,154.31 76.65,155.72 78.28,157.09 79.90,158.42 81.53,159.71 83.16,160.96 84.78,162.15 86.41,163.28 88.04,164.34 89.67,165.34 91.30,166.25 92.92,167.08 94.55,167.82 96.18,168.46 97.81,168.99 99.43,169.41 101.06,169.71 102.69,169.89 104.31,169.94 105.94,169.85 107.57,169.62 109.20,169.25 110.82,168.73 112.45,168.09 114.08,167.33 115.71,166.46 117.34,165.48 118.96,164.41 120.59,163.25 122.22,162.02 123.84,160.72 125.47,159.36 127.10,157.95 128.73,156.48 130.36,154.97 131.98,153.42 133.61,151.84 135.24,150.22 136.87,148.57 138.49,146.90 140.12,145.21 141.75,143.49 143.38,141.76 145.00,140.01 146.63,138.24 148.26,136.46 149.88,134.66 151.51,132.85 153.14,131.03 154.77,129.21 156.39,127.37 158.02,125.52 159.65,123.67 161.28,121.80 162.91,119.93 164.53,118.06 166.16,116.18 167.79,114.29 169.41,112.40 171.04,110.50 172.67,108.60 174.30,106.69 175.93,104.78 177.55,102.87 179.18,100.95 180.81,99.03 182.44,97.11 184.06,95.18 185.69,93.25 187.32,91.32 188.94,89.38 190.57,87.45 192.20,85.51 193.83,83.57 195.45,81.62 197.08,79.68 198.71,77.73 200.34,75.78 201.97,73.83 203.59,71.88 205.22,69.93 206.85,67.97 208.47,66.02 210.10,64.06 211.73,62.10 213.36,60.14 214.98,58.18 216.61,56.22 218.24,54.25"/><polyline points="62.00,137.00 63.63,138.68 65.25,140.35 66.88,142.00 68.51,143.64 70.14,145.25 71.77,146.85 73.39,148.42 75.02,149.97 76.65,151.48 78.28,152.97 79.90,154.42 81.53,155.84 83.16,157.21 84.78,158.54 86.41,159.82 88.04,161.04 89.67,162.19 91.30,163.28 92.92,164.29 94.55,165.22 96.18,166.06 97.81,166.80 99.43,167.43 101.06,167.95 102.69,168.35 104.31,168.63 105.94,168.78 107.57,168.81 109.20,168.70 110.82,168.47 112.45,168.11 114.08,167.64 115.71,167.05 117.34,166.36 118.96,165.56 120.59,164.68 122.22,163.71 123.84,162.66 125.47,161.54 127.10,160.36 128.73,159.12 130.36,157.82 131.98,156.48 133.61,155.10 135.24,153.67 136.87,152.21 138.49,150.72 140.12,149.20 141.75,147.66 143.38,146.09 145.00,144.50 146.63,142.88 148.26,141.25 149.88,139.61 151.51,137.95 153.14,136.27 154.77,134.58 156.39,132.88 158.02,131.17 159.65,129.45 161.28,127.72 162.91,125.98 164.53,124.24 166.16,122.48 167.79,120.72 169.41,118.96 171.04,117.18 172.67,115.40 174.30,113.62 175.93,111.83 177.55,110.04 179.18,108.24 180.81,106.43 182.44,104.63 184.06,102.82 185.69,101.01 187.32,99.19 188.94,97.37 190.57,95.55 192.20,93.72 193.83,91.89 195.45,90.06 197.08,88.23 198.71,86.40 200.34,84.56 201.97,82.72 203.59,80.88 205.22,79.04 206.85,77.19 208.47,75.35 210.10,73.50 211.73,71.65 213.36,69.80 214.98,67.95 216.61,66.09 218.24,64.24"/><polyline points="62.00,139.45 63.63,140.91 65.25,142.35 66.88,143.78 68.51,145.19 70.14,146.58 71.77,147.96 73.39,149.31 75.02,150.64 76.65,151.95 78.28,153.22 79.90,154.47 81.53,155.68 83.16,156.86 84.78,158.00 86.41,159.09 88.04,160.14 89.67,161.14 91.30,162.09 92.92,162.97 94.55,163.79 96.18,164.54 97.81,165.22 99.43,165.82 101.06,166.34 102.69,166.77 104.31,167.10 105.94,167.35 107.57,167.49 109.20,167.54 110.82,167.47 112.45,167.26 114.08,166.93 115.71,166.47 117.34,165.88 118.96,165.18 120.59,164.37 122.22,163.47 123.84,162.47 125.47,161.39 127.10,160.23 128.73,159.00 130.36,157.71 131.98,156.36 133.61,154.96 135.24,153.51 136.87,152.02 138.49,150.49 140.12,148.93 141.75,147.34 143.38,145.72 145.00,144.07 146.63,142.40 148.26,140.71 149.88,138.99 151.51,137.27 153.14,135.52 154.77,133.76 156.39,131.99 158.02,130.20 159.65,128.40 161.28,126.59 162.91,124.77 164.53,122.95 166.16,121.11 167.79,119.27 169.41,117.41 171.04,115.56 172.67,113.69 174.30,111.82 175.93,109.94 177.55,108.06 179.18,106.17 180.81,104.28 182.44,102.39 184.06,100.49 185.69,98.58 187.32,96.68 188.94,94.76 190.57,92.85 192.20,90.93 193.83,89.01 195.45,87.09 197.08,85.17 198.71,83.24 200.34,81.31 201.97,79.38 203.59,77.44 205.22,75.50 206.85,73.57 208.47,71.63 210.10,69.68 211.73,67.74 213.36,65.79 214.98,63.85 216.61,61.90 218.24,59.95"/><polyline points="62.00,133.81 63.63,135.47 65.25,137.11 66.88,138.73 68.51,140.34 70.14,141.93 71.77,143.50 73.39,145.04 75.02,146.56 76.65,148.05 78.28,149.51 79.90,150.94 81.53,152.33 83.16,153.69 84.78,155.00 86.41,156.26 88.04,157.47 89.67,158.62 91.30,159.71 92.92,160.74 94.55,161.69 96.18,162.56 97.81,163.34 99.43,164.03 101.06,164.63 102.69,165.12 104.31,165.50 105.94,165.77 107.57,165.92 109.20,165.96 110.82,165.87 112.45,165.66 114.08,165.34 115.71,164.89 117.34,164.34 118.96,163.68 120.59,162.91 122.22,162.06 123.84,161.12 125.47,160.09 127.10,159.00 128.73,157.84 130.36,156.61 131.98,155.33 133.61,154.00 135.24,152.62 136.87,151.20 138.49,149.74 140.12,148.24 141.75,146.72 143.38,145.16 145.00,143.58 146.63,141.97 148.26,140.34 149.88,138.70 151.51,137.03 153.14,135.34 154.77,133.64 156.39,131.93 158.02,130.20 159.65,128.46 161.28,126.70 162.91,124.94 164.53,123.17 166.16,121.38 167.79,119.59 169.41,117.79 171.04,115.99 172.67,114.17 174.30,112.36 175.93,110.53 177.55,108.70 179.18,106.86 180.81,105.02 182.44,103.17 184.06,101.32 185.69,99.46 187.32,97.60 188.94,95.74 190.57,93.87 192.20,92.00 193.83,90.13 195.45,88.25 197.08,86.37 198.71,84.49 200.34,82.61 201.97,80.72 203.59,78.83 205.22,76.94 206.85,75.04 208.47,73.15 210.10,71.25 211.73,69.35 213.36,67.45 214.98,65.55 216.61,63.64 218.24,61.73"/><polyline points="62.00,129.63 63.63,131.28 65.25,132.93 66.88,134.57 68.51,136.19 70.14,137.80 71.77,139.39 73.39,140.97 75.02,142.53 76.65,144.07 78.28,145.59 79.90,147.09 81.53,148.56 83.16,150.01 84.78,151.42 86.41,152.81 88.04,154.15 89.67,155.46 91.30,156.72 92.92,157.94 94.55,159.11 96.18,160.22 97.81,161.26 99.43,162.24 101.06,163.14 102.69,163.97 104.31,164.71 105.94,165.36 107.57,165.91 109.20,166.35 110.82,166.69 112.45,166.92 114.08,167.04 115.71,167.04 117.34,166.93 118.96,166.72 120.59,166.40 122.22,165.98 123.84,165.46 125.47,164.86 127.10,164.16 128.73,163.38 130.36,162.53 131.98,161.60 133.61,160.61 135.24,159.56 136.87,158.46 138.49,157.30 140.12,156.10 141.75,154.85 143.38,153.57 145.00,152.25 146.63,150.89 148.26,149.51 149.88,148.10 151.51,146.67 153.14,145.22 154.77,143.74 156.39,142.24 158.02,140.73 159.65,139.20 161.28,137.65 162.91,136.09 164.53,134.52 166.16,132.94 167.79,131.34 169.41,129.74 171.04,128.12 172.67,126.50 174.30,124.87 175.93,123.23 177.55,121.58 179.18,119.93 180.81,118.27 182.44,116.60 184.06,114.93 185.69,113.25 187.32,111.57 188.94,109.89 190.57,108.20 192.20,106.50 193.83,104.80 195.45,103.10 197.08,101.39 198.71,99.69 200.34,97.97 201.97,96.26 203.59,94.54 205.22,92.82 206.85,91.10 208.47,89.37 210.10,87.64 211.73,85.91 213.36,84.18 214.98,82.44 216.61,80.71 218.24,78.97"/><polyline points="62.00,125.34 63.63,127.17 65.25,129.00 66.88,130.82 68.51,132.63 70.14,134.42 71.77,136.21 73.39,137.98 75.02,139.74 76.65,141.48 78.28,143.20 79.90,144.90 81.53,146.59 83.16,148.25 84.78,149.88 86.41,151.49 88.04,153.06 89.67,154.60 91.30,156.10 92.92,157.55 94.55,158.96 96.18,160.31 97.81,161.60 99.43,162.82 101.06,163.97 102.69,165.04 104.31,166.01 105.94,166.89 107.57,167.65 109.20,168.30 110.82,168.82 112.45,169.20 114.08,169.45 115.71,169.55 117.34,169.52 118.96,169.36 120.59,169.07 122.22,168.66 123.84,168.14 125.47,167.51 127.10,166.77 128.73,165.94 130.36,165.02 131.98,164.02 133.61,162.95 135.24,161.81 136.87,160.61 138.49,159.35 140.12,158.05 141.75,156.70 143.38,155.31 145.00,153.88 146.63,152.42 148.26,150.94 149.88,149.42 151.51,147.88 153.14,146.32 154.77,144.74 156.39,143.14 158.02,141.52 159.65,139.88 161.28,138.24 162.91,136.58 164.53,134.91 166.16,133.22 167.79,131.53 169.41,129.83 171.04,128.11 172.67,126.39 174.30,124.67 175.93,122.93 177.55,121.19 179.18,119.45 180.81,117.69 182.44,115.94 184.06,114.17 185.69,112.41 187.32,110.63 188.94,108.86 190.57,107.08 192.20,105.30 193.83,103.51 195.45,101.72 197.08,99.93 198.71,98.13 200.34,96.33 201.97,94.53 203.59,92.73 205.22,90.92 206.85,89.12 208.47,87.31 210.10,85.49 211.73,83.68 213.36,81.86 214.98,80.05 216.61,78.23 218.24,76.41"/><polyline points="62.00,127.84 63.63,129.66 65.25,131.47 66.88,133.27 68.51,135.06 70.14,136.84 71.77,138.60 73.39,140.35 75.02,142.08 76.65,143.79 78.28,145.48 79.90,147.14 81.53,148.79 83.16,150.40 84.78,151.98 86.41,153.53 88.04,155.04 89.67,156.50 91.30,157.92 92.92,159.29 94.55,160.60 96.18,161.84 97.81,163.01 99.43,164.11 101.06,165.11 102.69,166.02 104.31,166.82 105.94,167.50 107.57,168.07 109.20,168.50 110.82,168.80 112.45,168.97 114.08,168.98 115.71,168.86 117.34,168.61 118.96,168.23 120.59,167.71 122.22,167.08 123.84,166.34 125.47,165.49 127.10,164.55 128.73,163.52 130.36,162.41 131.98,161.22 133.61,159.97 135.24,158.66 136.87,157.30 138.49,155.89 140.12,154.44 141.75,152.94 143.38,151.41 145.00,149.85 146.63,148.27 148.26,146.65 149.88,145.01 151.51,143.35 153.14,141.67 154.77,139.98 156.39,138.26 158.02,136.53 159.65,134.79 161.28,133.04 162.91,131.27 164.53,129.50 166.16,127.71 167.79,125.92 169.41,124.11 171.04,122.30 172.67,120.48 174.30,118.66 175.93,116.83 177.55,114.99 179.18,113.15 180.81,111.30 182.44,109.44 184.06,107.59 185.69,105.73 187.32,103.86 188.94,101.99 190.57,100.12 192.20,98.24 193.83,96.36 195.45,94.48 197.08,92.60 198.71,90.71 200.34,88.82 201.97,86.93 203.59,85.03 205.22,83.14 206.85,81.24 208.47,79.34 210.10,77.44 211.73,75.53 213.36,73.63 214.98,71.72 216.61,69.81 218.24,67.90"/><polyline points="62.00,128.63 63.63,130.25 65.25,131.86 66.88,133.46 68.51,135.04 70.14,136.61 71.77,138.16 73.39,139.69 75.02,141.21 76.65,142.70 78.28,144.18 79.90,145.63 81.53,147.05 83.16,148.45 84.78,149.82 86.41,151.15 88.04,152.44 89.67,153.70 91.30,154.92 92.92,156.08 94.55,157.20 96.18,158.26 97.81,159.26 99.43,160.19 101.06,161.06 102.69,161.85 104.31,162.56 105.94,163.18 107.57,163.72 109.20,164.16 110.82,164.50 112.45,164.74 114.08,164.87 115.71,164.90 117.34,164.80 118.96,164.57 120.59,164.21 122.22,163.72 123.84,163.11 125.47,162.39 127.10,161.55 128.73,160.62 130.36,159.59 131.98,158.48 133.61,157.29 135.24,156.03 136.87,154.70 138.49,153.32 140.12,151.88 141.75,150.39 143.38,148.86 145.00,147.28 146.63,145.67 148.26,144.03 149.88,142.36 151.51,140.66 153.14,138.94 154.77,137.19 156.39,135.42 158.02,133.63 159.65,131.83 161.28,130.00 162.91,128.17 164.53,126.32 166.16,124.45 167.79,122.58 169.41,120.69 171.04,118.80 172.67,116.89 174.30,114.98 175.93,113.06 177.55,111.13 179.18,109.19 180.81,107.25 182.44,105.30 184.06,103.34 185.69,101.38 187.32,99.42 188.94,97.45 190.57,95.47 192.20,93.49 193.83,91.51 195.45,89.52 197.08,87.53 198.71,85.54 200.34,83.54 201.97,81.54 203.59,79.54 205.22,77.53 206.85,75.52 208.47,73.51 210.10,71.50 211.73,69.48 213.36,67.46 214.98,65.44 216.61,63.42 218.24,61.40"/><polyline points="62.00,132.21 63.63,133.92 65.25,135.61 66.88,137.28 68.51,138.95 70.14,140.59 71.77,142.22 73.39,143.83 75.02,145.42 76.65,146.99 78.28,148.54 79.90,150.05 81.53,151.54 83.16,152.99 84.78,154.41 86.41,155.78 88.04,157.12 89.67,158.40 91.30,159.63 92.92,160.80 94.55,161.91 96.18,162.94 97.81,163.90 99.43,164.77 101.06,165.54 102.69,166.22 104.31,166.80 105.94,167.26 107.57,167.60 109.20,167.82 110.82,167.92 112.45,167.88 114.08,167.69 115.71,167.34 117.34,166.84 118.96,166.20 120.59,165.42 122.22,164.52 123.84,163.50 125.47,162.38 127.10,161.17 128.73,159.87 130.36,158.49 131.98,157.05 133.61,155.54 135.24,153.98 136.87,152.37 138.49,150.71 140.12,149.02 141.75,147.29 143.38,145.53 145.00,143.74 146.63,141.92 148.26,140.08 149.88,138.22 151.51,136.34 153.14,134.44 154.77,132.52 156.39,130.59 158.02,128.65 159.65,126.70 161.28,124.73 162.91,122.75 164.53,120.77 166.16,118.77 167.79,116.77 169.41,114.76 171.04,112.74 172.67,110.71 174.30,108.68 175.93,106.65 177.55,104.61 179.18,102.56 180.81,100.51 182.44,98.45 184.06,96.39 185.69,94.33 187.32,92.26 188.94,90.19 190.57,88.12 192.20,86.04 193.83,83.96 195.45,81.88 197.08,79.79 198.71,77.71 200.34,75.62 201.97,73.52 203.59,71.43 205.22,69.33 206.85,67.24 208.47,65.14 210.10,63.03 211.73,60.93 213.36,58.83 214.98,56.72 216.61,54.61 218.24,52.50"/><polyline points="62.00,130.59 63.63,132.33 65.25,134.06 66.88,135.78 68.51,137.48 70.14,139.17 71.77,140.84 73.39,142.50 75.02,144.14 76.65,145.76 78.28,147.35 79.90,148.92 81.53,150.46 83.16,151.97 84.78,153.45 86.41,154.89 88.04,156.29 89.67,157.64 91.30,158.95 92.92,160.19 94.55,161.38 96.18,162.50 97.81,163.54 99.43,164.51 101.06,165.38 102.69,166.16 104.31,166.83 105.94,167.39 107.57,167.84 109.20,168.16 110.82,168.35 112.45,168.41 114.08,168.35 115.71,168.16 117.34,167.86 118.96,167.44 120.59,166.91 122.22,166.28 123.84,165.54 125.47,164.72 127.10,163.81 128.73,162.82 130.36,161.76 131.98,160.64 133.61,159.45 135.24,158.21 136.87,156.93 138.49,155.60 140.12,154.22 141.75,152.82 143.38,151.37 145.00,149.90 146.63,148.40 148.26,146.88 149.88,145.33 151.51,143.77 153.14,142.18 154.77,140.58 156.39,138.96 158.02,137.32 159.65,135.67 161.28,134.01 162.91,132.34 164.53,130.66 166.16,128.97 167.79,127.27 169.41,125.56 171.04,123.84 172.67,122.12 174.30,120.38 175.93,118.65 177.55,116.90 179.18,115.15 180.81,113.40 182.44,111.64 184.06,109.88 185.69,108.11 187.32,106.34 188.94,104.56 190.57,102.78 192.20,101.00 193.83,99.21 195.45,97.42 197.08,95.63 198.71,93.83 200.34,92.04 201.97,90.24 203.59,88.43 205.22,86.63 206.85,84.82 208.47,83.01 210.10,81.20 211.73,79.39 213.36,77.58 214.98,75.76 216.61,73.94 218.24,72.12"/><polyline points="62.00,122.50 63.63,124.35 65.25,126.18 66.88,128.01 68.51,129.83 70.14,131.64 71.77,133.45 73.39,135.24 75.02,137.03 76.65,138.80 78.28,140.56 79.90,142.31 81.53,144.04 83.16,145.75 84.78,147.45 86.41,149.13 88.04,150.78 89.67,152.41 91.30,154.01 92.92,155.58 94.55,157.12 96.18,158.62 97.81,160.07 99.43,161.47 101.06,162.82 102.69,164.11 104.31,165.33 105.94,166.47 107.57,167.53 109.20,168.49 110.82,169.34 112.45,170.08 114.08,170.69 115.71,171.17 117.34,171.50 118.96,171.69 120.59,171.72 122.22,171.61 123.84,171.36 125.47,170.96 127.10,170.43 128.73,169.77 130.36,168.99 131.98,168.11 133.61,167.13 135.24,166.06 136.87,164.91 138.49,163.69 140.12,162.40 141.75,161.06 143.38,159.67 145.00,158.23 146.63,156.75 148.26,155.23 149.88,153.68 151.51,152.10 153.14,150.50 154.77,148.87 156.39,147.22 158.02,145.55 159.65,143.86 161.28,142.16 162.91,140.44 164.53,138.72 166.16,136.97 167.79,135.22 169.41,133.46 171.04,131.69 172.67,129.91 174.30,128.12 175.93,126.32 177.55,124.52 179.18,122.71 180.81,120.90 182.44,119.08 184.06,117.26 185.69,115.43 187.32,113.59 188.94,111.76 190.57,109.91 192.20,108.07 193.83,106.22 195.45,104.37 197.08,102.51 198.71,100.66 200.34,98.80 201.97,96.94 203.59,95.07 205.22,93.20 206.85,91.33 208.47,89.46 210.10,87.59 211.73,85.72 213.36,83.84 214.98,81.96 216.61,80.08 218.24,78.20"/><polyline points="62.00,132.31 63.63,134.04 65.25,135.76 66.88,137.46 68.51,139.16 70.14,140.84 71.77,142.51 73.39,144.16 75.02,145.80 76.65,147.42 78.28,149.02 79.90,150.60 81.53,152.15 83.16,153.68 84.78,155.18 86.41,156.64 88.04,158.07 89.67,159.45 91.30,160.79 92.92,162.08 94.55,163.31 96.18,164.48 97.81,165.57 99.43,166.59 101.06,167.53 102.69,168.36 104.31,169.10 105.94,169.72 107.57,170.22 109.20,170.60 110.82,170.85 112.45,170.96 114.08,170.92 115.71,170.73 117.34,170.39 118.96,169.90 120.59,169.27 122.22,168.50 123.84,167.62 125.47,166.62 127.10,165.53 128.73,164.34 130.36,163.08 131.98,161.74 133.61,160.34 135.24,158.88 136.87,157.37 138.49,155.82 140.12,154.22 141.75,152.59 143.38,150.93 145.00,149.24 146.63,147.52 148.26,145.78 149.88,144.02 151.51,142.24 153.14,140.45 154.77,138.63 156.39,136.81 158.02,134.97 159.65,133.12 161.28,131.26 162.91,129.39 164.53,127.51 166.16,125.62 167.79,123.72 169.41,121.82 171.04,119.91 172.67,117.99 174.30,116.07 175.93,114.14 177.55,112.21 179.18,110.28 180.81,108.33 182.44,106.39 184.06,104.44 185.69,102.49 187.32,100.53 188.94,98.57 190.57,96.61 192.20,94.65 193.83,92.68 195.45,90.71 197.08,88.74 198.71,86.77 200.34,84.79 201.97,82.81 203.59,80.83 205.22,78.85 206.85,76.87 208.47,74.88 210.10,72.90 211.73,70.91 213.36,68.92 214.98,66.93 216.61,64.93 218.24,62.94"/><polyline points="62.00,127.98 63.63,129.58 65.25,131.18 66.88,132.76 68.51,134.33 70.14,135.89 71.77,137.43 73.39,138.96 75.02,140.47 76.65,141.97 78.28,143.44 79.90,144.90 81.53,146.33 83.16,147.74 84.78,149.12 86.41,150.47 88.04,151.79 89.67,153.07 91.30,154.32 92.92,155.52 94.55,156.68 96.18,157.79 97.81,158.85 99.43,159.85 101.06,160.79 102.69,161.66 104.31,162.46 105.94,163.17 107.57,163.81 109.20,164.36 110.82,164.82 112.45,165.18 114.08,165.44 115.71,165.60 117.34,165.65 118.96,165.59 120.59,165.40 122.22,165.08 123.84,164.64 125.47,164.08 127.10,163.40 128.73,162.62 130.36,161.74 131.98,160.77 133.61,159.71 135.24,158.58 136.87,157.37 138.49,156.10 140.12,154.77 141.75,153.39 143.38,151.95 145.00,150.48 146.63,148.96 148.26,147.41 149.88,145.82 151.51,144.21 153.14,142.57 154.77,140.90 156.39,139.21 158.02,137.49 159.65,135.76 161.28,134.02 162.91,132.25 164.53,130.47 166.16,128.68 167.79,126.87 169.41,125.05 171.04,123.23 172.67,121.39 174.30,119.54 175.93,117.68 177.55,115.82 179.18,113.95 180.81,112.07 182.44,110.18 184.06,108.29 185.69,106.39 187.32,104.49 188.94,102.58 190.57,100.67 192.20,98.75 193.83,96.83 195.45,94.90 197.08,92.97 198.71,91.04 200.34,89.10 201.97,87.16 203.59,85.22 205.22,83.27 206.85,81.32 208.47,79.37 210.10,77.42 211.73,75.46 213.36,73.51 214.98,71.55 216.61,69.58 218.24,67.62"/><polyline points="62.00,124.03 63.63,125.70 65.25,127.36 66.88,129.01 68.51,130.65 70.14,132.28 71.77,133.90 73.39,135.51 75.02,137.10 76.65,138.67 78.28,140.24 79.90,141.78 81.53,143.31 83.16,144.81 84.78,146.29 86.41,147.75 88.04,149.18 89.67,150.59 91.30,151.96 92.92,153.29 94.55,154.59 96.18,155.85 97.81,157.06 99.43,158.22 101.06,159.33 102.69,160.38 104.31,161.36 105.94,162.28 107.57,163.11 109.20,163.87 110.82,164.54 112.45,165.12 114.08,165.60 115.71,165.98 117.34,166.25 118.96,166.41 120.59,166.46 122.22,166.39 123.84,166.17 125.47,165.82 127.10,165.34 128.73,164.72 130.36,163.99 131.98,163.15 133.61,162.20 135.24,161.16 136.87,160.03 138.49,158.82 140.12,157.54 141.75,156.19 143.38,154.78 145.00,153.32 146.63,151.81 148.26,150.26 149.88,148.67 151.51,147.04 153.14,145.38 154.77,143.69 156.39,141.97 158.02,140.23 159.65,138.47 161.28,136.69 162.91,134.88 164.53,133.07 166.16,131.23 167.79,129.39 169.41,127.53 171.04,125.65 172.67,123.77 174.30,121.88 175.93,119.97 177.55,118.06 179.18,116.14 180.81,114.21 182.44,112.28 184.06,110.34 185.69,108.39 187.32,106.43 188.94,104.48 190.57,102.51 192.20,100.54 193.83,98.57 195.45,96.59 197.08,94.61 198.71,92.62 200.34,90.64 201.97,88.64 203.59,86.65 205.22,84.65 206.85,82.65 208.47,80.64 210.10,78.64 211.73,76.63 213.36,74.62 214.98,72.60 216.61,70.59 218.24,68.57"/><polyline points="62.00,123.87 63.63,125.65 65.25,127.43 66.88,129.20 68.51,130.96 70.14,132.72 71.77,134.47 73.39,136.21 75.02,137.94 76.65,139.66 78.28,141.36 79.90,143.06 81.53,144.74 83.16,146.41 84.78,148.06 86.41,149.69 88.04,151.30 89.67,152.89 91.30,154.46 92.92,155.99 94.55,157.50 96.18,158.97 97.81,160.40 99.43,161.79 101.06,163.13 102.69,164.42 104.31,165.64 105.94,166.80 107.57,167.87 109.20,168.86 110.82,169.76 112.45,170.54 114.08,171.22 115.71,171.77 117.34,172.18 118.96,172.46 120.59,172.59 122.22,172.58 123.84,172.42 125.47,172.12 127.10,171.68 128.73,171.11 130.36,170.41 131.98,169.61 133.61,168.70 135.24,167.70 136.87,166.61 138.49,165.45 140.12,164.22 141.75,162.92 143.38,161.58 145.00,160.19 146.63,158.75 148.26,157.28 149.88,155.77 151.51,154.24 153.14,152.67 154.77,151.08 156.39,149.47 158.02,147.84 159.65,146.19 161.28,144.53 162.91,142.85 164.53,141.16 166.16,139.45 167.79,137.74 169.41,136.01 171.04,134.27 172.67,132.53 174.30,130.78 175.93,129.02 177.55,127.25 179.18,125.48 180.81,123.70 182.44,121.92 184.06,120.13 185.69,118.34 187.32,116.54 188.94,114.74 190.57,112.93 192.20,111.12 193.83,109.31 195.45,107.49 197.08,105.68 198.71,103.85 200.34,102.03 201.97,100.20 203.59,98.37 205.22,96.54 206.85,94.71 208.47,92.88 210.10,91.04 211.73,89.20 213.36,87.36 214.98,85.52 216.61,83.67 218.24,81.83"/><polyline points="62.00,126.01 63.63,127.69 65.25,129.37 66.88,131.05 68.51,132.71 70.14,134.37 71.77,136.02 73.39,137.65 75.02,139.28 76.65,140.89 78.28,142.50 79.90,144.09 81.53,145.66 83.16,147.22 84.78,148.75 86.41,150.27 88.04,151.77 89.67,153.24 91.30,154.69 92.92,156.10 94.55,157.49 96.18,158.83 97.81,160.14 99.43,161.40 101.06,162.61 102.69,163.77 104.31,164.86 105.94,165.89 107.57,166.85 109.20,167.72 110.82,168.50 112.45,169.19 114.08,169.77 115.71,170.24 117.34,170.59 118.96,170.82 120.59,170.93 122.22,170.90 123.84,170.73 125.47,170.40 127.10,169.94 128.73,169.33 130.36,168.60 131.98,167.75 133.61,166.79 135.24,165.74 136.87,164.59 138.49,163.37 140.12,162.07 141.75,160.71 143.38,159.29 145.00,157.83 146.63,156.32 148.26,154.76 149.88,153.18 151.51,151.56 153.14,149.91 154.77,148.23 156.39,146.53 158.02,144.82 159.65,143.08 161.28,141.32 162.91,139.55 164.53,137.76 166.16,135.97 167.79,134.16 169.41,132.33 171.04,130.50 172.67,128.66 174.30,126.81 175.93,124.96 177.55,123.09 179.18,121.22 180.81,119.34 182.44,117.46 184.06,115.57 185.69,113.68 187.32,111.78 188.94,109.88 190.57,107.97 192.20,106.06 193.83,104.15 195.45,102.23 197.08,100.31 198.71,98.39 200.34,96.46 201.97,94.53 203.59,92.60 205.22,90.67 206.85,88.73 208.47,86.79 210.10,84.85 211.73,82.91 213.36,80.97 214.98,79.02 216.61,77.08 218.24,75.13"/><polyline points="62.00,124.65 63.63,126.30 65.25,127.94 66.88,129.57 68.51,131.20 70.14,132.82 71.77,134.43 73.39,136.03 75.02,137.62 76.65,139.20 78.28,140.77 79.90,142.32 81.53,143.87 83.16,145.39 84.78,146.90 86.41,148.40 88.04,149.87 89.67,151.32 91.30,152.75 92.92,154.15 94.55,155.53 96.18,156.87 97.81,158.18 99.43,159.45 101.06,160.67 102.69,161.85 104.31,162.98 105.94,164.05 107.57,165.06 109.20,166.00 110.82,166.86 112.45,167.64 114.08,168.34 115.71,168.93 117.34,169.43 118.96,169.82 120.59,170.09 122.22,170.26 123.84,170.30 125.47,170.22 127.10,170.00 128.73,169.65 130.36,169.18 131.98,168.59 133.61,167.89 135.24,167.08 136.87,166.18 138.49,165.20 140.12,164.13 141.75,162.99 143.38,161.79 145.00,160.52 146.63,159.21 148.26,157.84 149.88,156.44 151.51,154.99 153.14,153.52 154.77,152.01 156.39,150.47 158.02,148.91 159.65,147.32 161.28,145.71 162.91,144.09 164.53,142.44 166.16,140.78 167.79,139.11 169.41,137.42 171.04,135.73 172.67,134.02 174.30,132.30 175.93,130.57 177.55,128.83 179.18,127.08 180.81,125.33 182.44,123.57 184.06,121.80 185.69,120.03 187.32,118.25 188.94,116.47 190.57,114.68 192.20,112.88 193.83,111.09 195.45,109.28 197.08,107.48 198.71,105.67 200.34,103.86 201.97,102.04 203.59,100.22 205.22,98.40 206.85,96.58 208.47,94.75 210.10,92.92 211.73,91.09 213.36,89.26 214.98,87.42 216.61,85.59 218.24,83.75"/><polyline points="62.00,122.77 63.63,124.54 65.25,126.30 66.88,128.05 68.51,129.80 70.14,131.53 71.77,133.26 73.39,134.97 75.02,136.68 76.65,138.37 78.28,140.05 79.90,141.71 81.53,143.36 83.16,144.99 84.78,146.60 86.41,148.19 88.04,149.75 89.67,151.29 91.30,152.80 92.92,154.29 94.55,155.73 96.18,157.14 97.81,158.50 99.43,159.82 101.06,161.08 102.69,162.29 104.31,163.43 105.94,164.50 107.57,165.49 109.20,166.39 110.82,167.20 112.45,167.91 114.08,168.50 115.71,168.98 117.34,169.34 118.96,169.57 120.59,169.66 122.22,169.62 123.84,169.41 125.47,169.05 127.10,168.54 128.73,167.88 130.36,167.09 131.98,166.17 133.61,165.14 135.24,164.01 136.87,162.78 138.49,161.47 140.12,160.09 141.75,158.64 143.38,157.14 145.00,155.58 146.63,153.97 148.26,152.32 149.88,150.64 151.51,148.92 153.14,147.17 154.77,145.39 156.39,143.59 158.02,141.77 159.65,139.93 161.28,138.07 162.91,136.20 164.53,134.31 166.16,132.40 167.79,130.49 169.41,128.56 171.04,126.62 172.67,124.67 174.30,122.72 175.93,120.75 177.55,118.78 179.18,116.80 180.81,114.82 182.44,112.83 184.06,110.83 185.69,108.83 187.32,106.82 188.94,104.81 190.57,102.80 192.20,100.78 193.83,98.76 195.45,96.73 197.08,94.70 198.71,92.67 200.34,90.63 201.97,88.59 203.59,86.55 205.22,84.51 206.85,82.46 208.47,80.41 210.10,78.36 211.73,76.31 213.36,74.26 214.98,72.20 216.61,70.14 218.24,68.08"/><polyline points="62.00,129.15 63.63,130.77 65.25,132.38 66.88,133.98 68.51,135.58 70.14,137.16 71.77,138.74 73.39,140.30 75.02,141.86 76.65,143.40 78.28,144.93 79.90,146.44 81.53,147.94 83.16,149.42 84.78,150.89 86.41,152.33 88.04,153.75 89.67,155.14 91.30,156.51 92.92,157.85 94.55,159.15 96.18,160.41 97.81,161.64 99.43,162.82 101.06,163.94 102.69,165.01 104.31,166.02 105.94,166.96 107.57,167.83 109.20,168.61 110.82,169.31 112.45,169.91 114.08,170.41 115.71,170.80 117.34,171.07 118.96,171.24 120.59,171.28 122.22,171.19 123.84,170.96 125.47,170.60 127.10,170.11 128.73,169.49 130.36,168.76 131.98,167.93 133.61,166.99 135.24,165.97 136.87,164.87 138.49,163.70 140.12,162.46 141.75,161.16 143.38,159.82 145.00,158.42 146.63,156.99 148.26,155.51 149.88,154.01 151.51,152.47 153.14,150.91 154.77,149.32 156.39,147.71 158.02,146.08 159.65,144.43 161.28,142.76 162.91,141.08 164.53,139.39 166.16,137.68 167.79,135.97 169.41,134.24 171.04,132.50 172.67,130.76 174.30,129.00 175.93,127.24 177.55,125.47 179.18,123.69 180.81,121.91 182.44,120.12 184.06,118.33 185.69,116.53 187.32,114.73 188.94,112.92 190.57,111.11 192.20,109.30 193.83,107.48 195.45,105.66 197.08,103.84 198.71,102.01 200.34,100.18 201.97,98.35 203.59,96.51 205.22,94.67 206.85,92.83 208.47,90.99 210.10,89.15 211.73,87.30 213.36,85.45 214.98,83.60 216.61,81.75 218.24,79.90"/><polyline points="62.00,123.91 63.63,125.57 65.25,127.23 66.88,128.89 68.51,130.53 70.14,132.17 71.77,133.80 73.39,135.42 75.02,137.03 76.65,138.63 78.28,140.21 79.90,141.79 81.53,143.35 83.16,144.89 84.78,146.42 86.41,147.93 88.04,149.42 89.67,150.89 91.30,152.33 92.92,153.75 94.55,155.14 96.18,156.50 97.81,157.82 99.43,159.10 101.06,160.34 102.69,161.53 104.31,162.67 105.94,163.75 107.57,164.77 109.20,165.72 110.82,166.59 112.45,167.38 114.08,168.07 115.71,168.67 117.34,169.17 118.96,169.56 120.59,169.83 122.22,169.99 123.84,170.03 125.47,169.92 127.10,169.67 128.73,169.26 130.36,168.71 131.98,168.02 133.61,167.21 135.24,166.28 136.87,165.25 138.49,164.12 140.12,162.91 141.75,161.62 143.38,160.26 145.00,158.83 146.63,157.36 148.26,155.83 149.88,154.26 151.51,152.65 153.14,151.01 154.77,149.33 156.39,147.63 158.02,145.90 159.65,144.15 161.28,142.38 162.91,140.58 164.53,138.78 166.16,136.95 167.79,135.11 169.41,133.26 171.04,131.40 172.67,129.52 174.30,127.64 175.93,125.75 177.55,123.85 179.18,121.94 180.81,120.02 182.44,118.10 184.06,116.17 185.69,114.23 187.32,112.29 188.94,110.35 190.57,108.40 192.20,106.44 193.83,104.48 195.45,102.52 197.08,100.55 198.71,98.58 200.34,96.61 201.97,94.64 203.59,92.66 205.22,90.68 206.85,88.69 208.47,86.71 210.10,84.72 211.73,82.73 213.36,80.73 214.98,78.74 216.61,76.74 218.24,74.74"/><polyline points="62.00,115.79 63.63,117.57 65.25,119.35 66.88,121.11 68.51,122.87 70.14,124.62 71.77,126.36 73.39,128.09 75.02,129.82 76.65,131.53 78.28,133.23 79.90,134.92 81.53,136.60 83.16,138.26 84.78,139.90 86.41,141.53 88.04,143.14 89.67,144.73 91.30,146.29 92.92,147.83 94.55,149.35 96.18,150.83 97.81,152.29 99.43,153.70 101.06,155.08 102.69,156.41 104.31,157.70 105.94,158.93 107.57,160.11 109.20,161.22 110.82,162.26 112.45,163.22 114.08,164.10 115.71,164.90 117.34,165.59 118.96,166.18 120.59,166.66 122.22,167.03 123.84,167.28 125.47,167.41 127.10,167.41 128.73,167.30 130.36,167.06 131.98,166.72 133.61,166.26 135.24,165.70 136.87,165.03 138.49,164.28 140.12,163.43 141.75,162.51 143.38,161.51 145.00,160.44 146.63,159.30 148.26,158.11 149.88,156.87 151.51,155.58 153.14,154.25 154.77,152.88 156.39,151.47 158.02,150.03 159.65,148.56 161.28,147.06 162.91,145.54 164.53,143.99 166.16,142.43 167.79,140.84 169.41,139.24 171.04,137.62 172.67,135.99 174.30,134.35 175.93,132.69 177.55,131.02 179.18,129.34 180.81,127.65 182.44,125.95 184.06,124.24 185.69,122.52 187.32,120.80 188.94,119.07 190.57,117.33 192.20,115.59 193.83,113.84 195.45,112.09 197.08,110.33 198.71,108.56 200.34,106.80 201.97,105.02 203.59,103.25 205.22,101.47 206.85,99.68 208.47,97.90 210.10,96.10 211.73,94.31 213.36,92.52 214.98,90.72 216.61,88.92 218.24,87.11"/><polyline points="62.00,122.18 63.63,123.84 65.25,125.49 66.88,127.14 68.51,128.78 70.14,130.41 71.77,132.03 73.39,133.65 75.02,135.25 76.65,136.85 78.28,138.44 79.90,140.01 81.53,141.57 83.16,143.12 84.78,144.65 86.41,146.16 88.04,147.66 89.67,149.13 91.30,150.59 92.92,152.02 94.55,153.42 96.18,154.80 97.81,156.14 99.43,157.45 101.06,158.72 102.69,159.95 104.31,161.13 105.94,162.26 107.57,163.33 109.20,164.34 110.82,165.28 112.45,166.15 114.08,166.94 115.71,167.63 117.34,168.24 118.96,168.74 120.59,169.14 122.22,169.43 123.84,169.60 125.47,169.66 127.10,169.58 128.73,169.33 130.36,168.93 131.98,168.38 133.61,167.68 135.24,166.85 136.87,165.90 138.49,164.83 140.12,163.67 141.75,162.41 143.38,161.08 145.00,159.67 146.63,158.20 148.26,156.66 149.88,155.08 151.51,153.45 153.14,151.79 154.77,150.08 156.39,148.34 158.02,146.58 159.65,144.78 161.28,142.97 162.91,141.13 164.53,139.27 166.16,137.40 167.79,135.51 169.41,133.60 171.04,131.69 172.67,129.76 174.30,127.82 175.93,125.86 177.55,123.90 179.18,121.94 180.81,119.96 182.44,117.97 184.06,115.98 185.69,113.99 187.32,111.98 188.94,109.97 190.57,107.96 192.20,105.94 193.83,103.92 195.45,101.89 197.08,99.86 198.71,97.83 200.34,95.79 201.97,93.75 203.59,91.70 205.22,89.65 206.85,87.60 208.47,85.55 210.10,83.50 211.73,81.44 213.36,79.38 214.98,77.32 216.61,75.25 218.24,73.19"/><polyline points="62.00,121.89 63.63,123.54 65.25,125.19 66.88,126.82 68.51,128.45 70.14,130.06 71.77,131.66 73.39,133.25 75.02,134.82 76.65,136.37 78.28,137.91 79.90,139.44 81.53,140.94 83.16,142.42 84.78,143.88 86.41,145.31 88.04,146.72 89.67,148.10 91.30,149.44 92.92,150.75 94.55,152.03 96.18,153.26 97.81,154.45 99.43,155.59 101.06,156.67 102.69,157.70 104.31,158.67 105.94,159.57 107.57,160.40 109.20,161.16 110.82,161.83 112.45,162.42 114.08,162.92 115.71,163.32 117.34,163.63 118.96,163.84 120.59,163.94 122.22,163.94 123.84,163.81 125.47,163.55 127.10,163.16 128.73,162.64 130.36,162.01 131.98,161.27 133.61,160.42 135.24,159.48 136.87,158.44 138.49,157.32 140.12,156.12 141.75,154.85 143.38,153.52 145.00,152.13 146.63,150.69 148.26,149.20 149.88,147.67 151.51,146.09 153.14,144.48 154.77,142.84 156.39,141.16 158.02,139.46 159.65,137.73 161.28,135.98 162.91,134.21 164.53,132.42 166.16,130.61 167.79,128.79 169.41,126.95 171.04,125.09 172.67,123.23 174.30,121.35 175.93,119.46 177.55,117.56 179.18,115.65 180.81,113.73 182.44,111.80 184.06,109.87 185.69,107.93 187.32,105.98 188.94,104.02 190.57,102.06 192.20,100.10 193.83,98.12 195.45,96.15 197.08,94.17 198.71,92.18 200.34,90.19 201.97,88.20 203.59,86.20 205.22,84.20 206.85,82.19 208.47,80.18 210.10,78.17 211.73,76.16 213.36,74.14 214.98,72.13 216.61,70.10 218.24,68.08"/><polyline points="62.00,122.57 63.63,124.24 65.25,125.90 66.88,127.56 68.51,129.21 70.14,130.85 71.77,132.49 73.39,134.12 75.02,135.75 76.65,137.36 78.28,138.97 79.90,140.57 81.53,142.15 83.16,143.73 84.78,145.29 86.41,146.84 88.04,148.37 89.67,149.89 91.30,151.39 92.92,152.86 94.55,154.32 96.18,155.75 97.81,157.16 99.43,158.53 101.06,159.87 102.69,161.18 104.31,162.44 105.94,163.65 107.57,164.82 109.20,165.93 110.82,166.97 112.45,167.94 114.08,168.84 115.71,169.65 117.34,170.37 118.96,170.99 120.59,171.50 122.22,171.89 123.84,172.16 125.47,172.31 127.10,172.34 128.73,172.22 130.36,171.95 131.98,171.54 133.61,171.00 135.24,170.34 136.87,169.55 138.49,168.66 140.12,167.67 141.75,166.59 143.38,165.43 145.00,164.20 146.63,162.91 148.26,161.57 149.88,160.17 151.51,158.73 153.14,157.25 154.77,155.73 156.39,154.18 158.02,152.61 159.65,151.00 161.28,149.38 162.91,147.73 164.53,146.07 166.16,144.39 167.79,142.69 169.41,140.98 171.04,139.26 172.67,137.53 174.30,135.78 175.93,134.03 177.55,132.26 179.18,130.49 180.81,128.71 182.44,126.93 184.06,125.14 185.69,123.34 187.32,121.53 188.94,119.72 190.57,117.91 192.20,116.09 193.83,114.27 195.45,112.44 197.08,110.61 198.71,108.78 200.34,106.94 201.97,105.10 203.59,103.26 205.22,101.41 206.85,99.56 208.47,97.71 210.10,95.86 211.73,94.01 213.36,92.15 214.98,90.29 216.61,88.43 218.24,86.57"/><polyline points="62.00,120.95 63.63,122.62 65.25,124.29 66.88,125.95 68.51,127.60 70.14,129.25 71.77,130.90 73.39,132.54 75.02,134.17 76.65,135.80 78.28,137.42 79.90,139.03 81.53,140.63 83.16,142.23 84.78,143.81 86.41,145.38 88.04,146.94 89.67,148.49 91.30,150.03 92.92,151.54 94.55,153.04 96.18,154.52 97.81,155.98 99.43,157.42 101.06,158.83 102.69,160.21 104.31,161.55 105.94,162.86 107.57,164.13 109.20,165.35 110.82,166.52 112.45,167.63 114.08,168.67 115.71,169.65 117.34,170.54 118.96,171.34 120.59,172.05 122.22,172.65 123.84,173.13 125.47,173.50 127.10,173.74 128.73,173.84 130.36,173.80 131.98,173.58 133.61,173.17 135.24,172.59 136.87,171.85 138.49,170.96 140.12,169.93 141.75,168.79 143.38,167.54 145.00,166.20 146.63,164.78 148.26,163.29 149.88,161.74 151.51,160.13 153.14,158.48 154.77,156.79 156.39,155.06 158.02,153.29 159.65,151.50 161.28,149.69 162.91,147.85 164.53,145.99 166.16,144.11 167.79,142.22 169.41,140.32 171.04,138.40 172.67,136.47 174.30,134.53 175.93,132.58 177.55,130.62 179.18,128.65 180.81,126.67 182.44,124.69 184.06,122.70 185.69,120.71 187.32,118.71 188.94,116.71 190.57,114.70 192.20,112.68 193.83,110.67 195.45,108.65 197.08,106.62 198.71,104.60 200.34,102.57 201.97,100.53 203.59,98.50 205.22,96.46 206.85,94.42 208.47,92.38 210.10,90.33 211.73,88.29 213.36,86.24 214.98,84.19 216.61,82.14 218.24,80.08"/><polyline points="62.00,119.25 63.63,120.92 65.25,122.58 66.88,124.24 68.51,125.89 70.14,127.53 71.77,129.17 73.39,130.79 75.02,132.41 76.65,134.01 78.28,135.60 79.90,137.19 81.53,138.75 83.16,140.31 84.78,141.84 86.41,143.37 88.04,144.87 89.67,146.35 91.30,147.81 92.92,149.25 94.55,150.66 96.18,152.04 97.81,153.39 99.43,154.71 101.06,155.99 102.69,157.23 104.31,158.42 105.94,159.56 107.57,160.65 109.20,161.68 110.82,162.65 112.45,163.54 114.08,164.37 115.71,165.10 117.34,165.76 118.96,166.31 120.59,166.77 122.22,167.13 123.84,167.38 125.47,167.53 127.10,167.56 128.73,167.47 130.36,167.25 131.98,166.91 133.61,166.45 135.24,165.88 136.87,165.20 138.49,164.42 140.12,163.54 141.75,162.58 143.38,161.54 145.00,160.43 146.63,159.25 148.26,158.01 149.88,156.71 151.51,155.37 153.14,153.98 154.77,152.55 156.39,151.08 158.02,149.58 159.65,148.05 161.28,146.49 162.91,144.90 164.53,143.29 166.16,141.67 167.79,140.02 169.41,138.35 171.04,136.67 172.67,134.98 174.30,133.27 175.93,131.54 177.55,129.81 179.18,128.07 180.81,126.31 182.44,124.55 184.06,122.78 185.69,121.00 187.32,119.21 188.94,117.41 190.57,115.61 192.20,113.81 193.83,111.99 195.45,110.18 197.08,108.35 198.71,106.53 200.34,104.70 201.97,102.86 203.59,101.02 205.22,99.18 206.85,97.33 208.47,95.48 210.10,93.63 211.73,91.77 213.36,89.91 214.98,88.05 216.61,86.18 218.24,84.32"/><polyline points="62.00,117.13 63.63,118.91 65.25,120.68 66.88,122.44 68.51,124.20 70.14,125.95 71.77,127.69 73.39,129.42 75.02,131.15 76.65,132.87 78.28,134.58 79.90,136.27 81.53,137.96 83.16,139.63 84.78,141.29 86.41,142.94 88.04,144.56 89.67,146.17 91.30,147.76 92.92,149.33 94.55,150.87 96.18,152.39 97.81,153.88 99.43,155.33 101.06,156.75 102.69,158.13 104.31,159.47 105.94,160.75 107.57,161.98 109.20,163.15 110.82,164.26 112.45,165.29 114.08,166.23 115.71,167.09 117.34,167.85 118.96,168.51 120.59,169.05 122.22,169.47 123.84,169.77 125.47,169.94 127.10,169.98 128.73,169.87 130.36,169.62 131.98,169.21 133.61,168.67 135.24,168.00 136.87,167.20 138.49,166.29 140.12,165.27 141.75,164.16 143.38,162.97 145.00,161.70 146.63,160.36 148.26,158.96 149.88,157.51 151.51,156.01 153.14,154.46 154.77,152.88 156.39,151.26 158.02,149.60 159.65,147.92 161.28,146.22 162.91,144.49 164.53,142.74 166.16,140.97 167.79,139.19 169.41,137.39 171.04,135.57 172.67,133.75 174.30,131.91 175.93,130.06 177.55,128.19 179.18,126.33 180.81,124.45 182.44,122.56 184.06,120.67 185.69,118.77 187.32,116.86 188.94,114.95 190.57,113.03 192.20,111.11 193.83,109.18 195.45,107.25 197.08,105.31 198.71,103.37 200.34,101.43 201.97,99.48 203.59,97.53 205.22,95.58 206.85,93.62 208.47,91.67 210.10,89.70 211.73,87.74 213.36,85.77 214.98,83.81 216.61,81.84 218.24,79.86"/><polyline points="62.00,120.23 63.63,121.93 65.25,123.63 66.88,125.33 68.51,127.02 70.14,128.70 71.77,130.38 73.39,132.06 75.02,133.72 76.65,135.38 78.28,137.04 79.90,138.68 81.53,140.32 83.16,141.94 84.78,143.56 86.41,145.16 88.04,146.75 89.67,148.32 91.30,149.89 92.92,151.43 94.55,152.95 96.18,154.46 97.81,155.94 99.43,157.39 101.06,158.82 102.69,160.21 104.31,161.57 105.94,162.89 107.57,164.16 109.20,165.38 110.82,166.55 112.45,167.65 114.08,168.68 115.71,169.63 117.34,170.50 118.96,171.27 120.59,171.93 122.22,172.48 123.84,172.91 125.47,173.21 127.10,173.38 128.73,173.42 130.36,173.31 131.98,173.05 133.61,172.66 135.24,172.13 136.87,171.48 138.49,170.71 140.12,169.83 141.75,168.86 143.38,167.80 145.00,166.66 146.63,165.45 148.26,164.19 149.88,162.86 151.51,161.49 153.14,160.08 154.77,158.63 156.39,157.14 158.02,155.62 159.65,154.08 161.28,152.51 162.91,150.92 164.53,149.31 166.16,147.68 167.79,146.03 169.41,144.38 171.04,142.70 172.67,141.02 174.30,139.32 175.93,137.62 177.55,135.90 179.18,134.18 180.81,132.45 182.44,130.71 184.06,128.96 185.69,127.21 187.32,125.46 188.94,123.69 190.57,121.93 192.20,120.16 193.83,118.38 195.45,116.60 197.08,114.82 198.71,113.03 200.34,111.24 201.97,109.45 203.59,107.65 205.22,105.85 206.85,104.05 208.47,102.25 210.10,100.44 211.73,98.63 213.36,96.82 214.98,95.01 216.61,93.20 218.24,91.38"/><polyline points="62.00,116.78 63.63,118.45 65.25,120.12 66.88,121.78 68.51,123.43 70.14,125.09 71.77,126.73 73.39,128.37 75.02,130.01 76.65,131.63 78.28,133.25 79.90,134.86 81.53,136.46 83.16,138.05 84.78,139.63 86.41,141.20 88.04,142.76 89.67,144.31 91.30,145.84 92.92,147.35 94.55,148.85 96.18,150.32 97.81,151.78 99.43,153.21 101.06,154.62 102.69,156.00 104.31,157.35 105.94,158.67 107.57,159.94 109.20,161.18 110.82,162.37 112.45,163.50 114.08,164.58 115.71,165.60 117.34,166.55 118.96,167.42 120.59,168.21 122.22,168.92 123.84,169.52 125.47,170.02 127.10,170.42 128.73,170.70 130.36,170.86 131.98,170.91 133.61,170.81 135.24,170.57 136.87,170.17 138.49,169.64 140.12,168.98 141.75,168.19 143.38,167.29 145.00,166.29 146.63,165.19 148.26,164.01 149.88,162.75 151.51,161.43 153.14,160.04 154.77,158.60 156.39,157.12 158.02,155.59 159.65,154.02 161.28,152.42 162.91,150.79 164.53,149.13 166.16,147.45 167.79,145.74 169.41,144.02 171.04,142.27 172.67,140.51 174.30,138.74 175.93,136.95 177.55,135.15 179.18,133.33 180.81,131.51 182.44,129.68 184.06,127.83 185.69,125.98 187.32,124.13 188.94,122.26 190.57,120.39 192.20,118.51 193.83,116.63 195.45,114.74 197.08,112.85 198.71,110.95 200.34,109.05 201.97,107.14 203.59,105.23 205.22,103.32 206.85,101.40 208.47,99.48 210.10,97.56 211.73,95.63 213.36,93.71 214.98,91.78 216.61,89.84 218.24,87.91"/><polyline points="62.00,114.24 63.63,116.04 65.25,117.84 66.88,119.63 68.51,121.42 70.14,123.21 71.77,124.99 73.39,126.76 75.02,128.53 76.65,130.29 78.28,132.04 79.90,133.79 81.53,135.53 83.16,137.26 84.78,138.98 86.41,140.69 88.04,142.39 89.67,144.08 91.30,145.75 92.92,147.41 94.55,149.05 96.18,150.68 97.81,152.28 99.43,153.86 101.06,155.42 102.69,156.94 104.31,158.44 105.94,159.90 107.57,161.32 109.20,162.70 110.82,164.02 112.45,165.29 114.08,166.50 115.71,167.64 117.34,168.69 118.96,169.66 120.59,170.53 122.22,171.29 123.84,171.93 125.47,172.44 127.10,172.81 128.73,173.05 130.36,173.13 131.98,173.06 133.61,172.83 135.24,172.43 136.87,171.89 138.49,171.19 140.12,170.37 141.75,169.42 143.38,168.37 145.00,167.22 146.63,165.98 148.26,164.67 149.88,163.29 151.51,161.85 153.14,160.36 154.77,158.82 156.39,157.24 158.02,155.62 159.65,153.97 161.28,152.30 162.91,150.59 164.53,148.87 166.16,147.12 167.79,145.36 169.41,143.58 171.04,141.78 172.67,139.98 174.30,138.15 175.93,136.32 177.55,134.48 179.18,132.63 180.81,130.77 182.44,128.90 184.06,127.02 185.69,125.14 187.32,123.25 188.94,121.36 190.57,119.46 192.20,117.56 193.83,115.65 195.45,113.74 197.08,111.82 198.71,109.90 200.34,107.98 201.97,106.05 203.59,104.12 205.22,102.19 206.85,100.25 208.47,98.31 210.10,96.37 211.73,94.43 213.36,92.49 214.98,90.54 216.61,88.59 218.24,86.64"/><polyline points="62.00,119.46 63.63,121.08 65.25,122.70 66.88,124.32 68.51,125.93 70.14,127.53 71.77,129.12 73.39,130.71 75.02,132.29 76.65,133.87 78.28,135.43 79.90,136.99 81.53,138.53 83.16,140.06 84.78,141.59 86.41,143.10 88.04,144.59 89.67,146.07 91.30,147.53 92.92,148.98 94.55,150.41 96.18,151.81 97.81,153.19 99.43,154.54 101.06,155.87 102.69,157.16 104.31,158.42 105.94,159.64 107.57,160.82 109.20,161.96 110.82,163.04 112.45,164.06 114.08,165.03 115.71,165.93 117.34,166.75 118.96,167.50 120.59,168.16 122.22,168.73 123.84,169.20 125.47,169.57 127.10,169.84 128.73,170.00 130.36,170.04 131.98,169.94 133.61,169.69 135.24,169.28 136.87,168.72 138.49,168.01 140.12,167.18 141.75,166.23 143.38,165.17 145.00,164.01 146.63,162.76 148.26,161.44 149.88,160.04 151.51,158.58 153.14,157.06 154.77,155.50 156.39,153.89 158.02,152.23 159.65,150.55 161.28,148.83 162.91,147.08 164.53,145.31 166.16,143.52 167.79,141.70 169.41,139.87 171.04,138.02 172.67,136.15 174.30,134.27 175.93,132.37 177.55,130.47 179.18,128.55 180.81,126.63 182.44,124.69 184.06,122.75 185.69,120.79 187.32,118.84 188.94,116.87 190.57,114.90 192.20,112.92 193.83,110.94 195.45,108.95 197.08,106.96 198.71,104.96 200.34,102.96 201.97,100.95 203.59,98.95 205.22,96.93 206.85,94.92 208.47,92.90 210.10,90.88 211.73,88.86 213.36,86.83 214.98,84.80 216.61,82.77 218.24,80.74"/><polyline points="62.00,114.64 63.63,116.35 65.25,118.06 66.88,119.76 68.51,121.46 70.14,123.15 71.77,124.84 73.39,126.53 75.02,128.21 76.65,129.89 78.28,131.56 79.90,133.23 81.53,134.89 83.16,136.55 84.78,138.19 86.41,139.83 88.04,141.47 89.67,143.09 91.30,144.71 92.92,146.31 94.55,147.90 96.18,149.48 97.81,151.05 99.43,152.59 101.06,154.13 102.69,155.64 104.31,157.13 105.94,158.60 107.57,160.04 109.20,161.45 110.82,162.83 112.45,164.16 114.08,165.46 115.71,166.71 117.34,167.90 118.96,169.03 120.59,170.09 122.22,171.08 123.84,171.97 125.47,172.77 127.10,173.47 128.73,174.05 130.36,174.50 131.98,174.82 133.61,175.00 135.24,175.03 136.87,174.90 138.49,174.59 140.12,174.11 141.75,173.47 143.38,172.68 145.00,171.76 146.63,170.71 148.26,169.56 149.88,168.32 151.51,167.00 153.14,165.60 154.77,164.15 156.39,162.64 158.02,161.08 159.65,159.48 161.28,157.84 162.91,156.17 164.53,154.47 166.16,152.75 167.79,151.01 169.41,149.24 171.04,147.46 172.67,145.66 174.30,143.85 175.93,142.02 177.55,140.19 179.18,138.34 180.81,136.48 182.44,134.62 184.06,132.74 185.69,130.86 187.32,128.98 188.94,127.08 190.57,125.18 192.20,123.28 193.83,121.37 195.45,119.46 197.08,117.54 198.71,115.62 200.34,113.69 201.97,111.77 203.59,109.83 205.22,107.90 206.85,105.96 208.47,104.02 210.10,102.08 211.73,100.14 213.36,98.19 214.98,96.24 216.61,94.29 218.24,92.34"/><polyline points="62.00,117.75 63.63,119.47 65.25,121.19 66.88,122.90 68.51,124.62 70.14,126.32 71.77,128.03 73.39,129.72 75.02,131.42 76.65,133.10 78.28,134.79 79.90,136.46 81.53,138.13 83.16,139.79 84.78,141.44 86.41,143.08 88.04,144.71 89.67,146.33 91.30,147.94 92.92,149.54 94.55,151.12 96.18,152.68 97.81,154.23 99.43,155.75 101.06,157.25 102.69,158.73 104.31,160.18 105.94,161.60 107.57,162.98 109.20,164.32 110.82,165.62 112.45,166.86 114.08,168.05 115.71,169.17 117.34,170.22 118.96,171.19 120.59,172.06 122.22,172.83 123.84,173.49 125.47,174.03 127.10,174.44 128.73,174.71 130.36,174.83 131.98,174.81 133.61,174.62 135.24,174.27 136.87,173.76 138.49,173.10 140.12,172.31 141.75,171.39 143.38,170.37 145.00,169.25 146.63,168.04 148.26,166.75 149.88,165.40 151.51,163.99 153.14,162.53 154.77,161.03 156.39,159.48 158.02,157.90 159.65,156.29 161.28,154.65 162.91,152.99 164.53,151.30 166.16,149.60 167.79,147.88 169.41,146.14 171.04,144.39 172.67,142.62 174.30,140.85 175.93,139.06 177.55,137.27 179.18,135.46 180.81,133.65 182.44,131.83 184.06,130.01 185.69,128.18 187.32,126.34 188.94,124.50 190.57,122.65 192.20,120.80 193.83,118.94 195.45,117.08 197.08,115.22 198.71,113.35 200.34,111.48 201.97,109.61 203.59,107.73 205.22,105.85 206.85,103.97 208.47,102.09 210.10,100.20 211.73,98.31 213.36,96.42 214.98,94.53 216.61,92.64 218.24,90.75"/><polyline points="62.00,103.53 63.63,105.24 65.25,106.95 66.88,108.65 68.51,110.35 70.14,112.06 71.77,113.76 73.39,115.45 75.02,117.15 76.65,118.84 78.28,120.53 79.90,122.21 81.53,123.90 83.16,125.58 84.78,127.25 86.41,128.93 88.04,130.59 89.67,132.26 91.30,133.92 92.92,135.57 94.55,137.22 96.18,138.86 97.81,140.50 99.43,142.12 101.06,143.74 102.69,145.36 104.31,146.96 105.94,148.55 107.57,150.13 109.20,151.70 110.82,153.25 112.45,154.79 114.08,156.30 115.71,157.81 117.34,159.28 118.96,160.74 120.59,162.16 122.22,163.56 123.84,164.92 125.47,166.24 127.10,167.52 128.73,168.74 130.36,169.91 131.98,171.00 133.61,172.03 135.24,172.97 136.87,173.82 138.49,174.56 140.12,175.18 141.75,175.68 143.38,176.05 145.00,176.27 146.63,176.34 148.26,176.24 149.88,175.93 151.51,175.42 153.14,174.74 154.77,173.88 156.39,172.88 158.02,171.75 159.65,170.51 161.28,169.16 162.91,167.73 164.53,166.23 166.16,164.66 167.79,163.04 169.41,161.37 171.04,159.66 172.67,157.92 174.30,156.14 175.93,154.34 177.55,152.52 179.18,150.67 180.81,148.80 182.44,146.92 184.06,145.03 185.69,143.12 187.32,141.20 188.94,139.27 190.57,137.33 192.20,135.38 193.83,133.42 195.45,131.45 197.08,129.48 198.71,127.51 200.34,125.52 201.97,123.54 203.59,121.54 205.22,119.55 206.85,117.55 208.47,115.54 210.10,113.54 211.73,111.53 213.36,109.51 214.98,107.50 216.61,105.48 218.24,103.46"/><polyline points="62.00,108.83 63.63,110.56 65.25,112.28 66.88,113.99 68.51,115.71 70.14,117.42 71.77,119.13 73.39,120.84 75.02,122.54 76.65,124.24 78.28,125.93 79.90,127.62 81.53,129.31 83.16,130.99 84.78,132.67 86.41,134.34 88.04,136.00 89.67,137.66 91.30,139.31 92.92,140.95 94.55,142.59 96.18,144.21 97.81,145.83 99.43,147.43 101.06,149.02 102.69,150.60 104.31,152.16 105.94,153.70 107.57,155.23 109.20,156.74 110.82,158.22 112.45,159.67 114.08,161.10 115.71,162.50 117.34,163.85 118.96,165.17 120.59,166.44 122.22,167.65 123.84,168.81 125.47,169.90 127.10,170.91 128.73,171.84 130.36,172.67 131.98,173.39 133.61,174.00 135.24,174.49 136.87,174.85 138.49,175.06 140.12,175.13 141.75,175.04 143.38,174.76 145.00,174.29 146.63,173.66 148.26,172.87 149.88,171.94 151.51,170.88 153.14,169.71 154.77,168.44 156.39,167.09 158.02,165.66 159.65,164.16 161.28,162.61 162.91,161.01 164.53,159.37 166.16,157.69 167.79,155.98 169.41,154.24 171.04,152.47 172.67,150.68 174.30,148.88 175.93,147.05 177.55,145.20 179.18,143.35 180.81,141.48 182.44,139.59 184.06,137.70 185.69,135.80 187.32,133.89 188.94,131.97 190.57,130.04 192.20,128.11 193.83,126.17 195.45,124.23 197.08,122.28 198.71,120.32 200.34,118.36 201.97,116.40 203.59,114.44 205.22,112.46 206.85,110.49 208.47,108.51 210.10,106.54 211.73,104.55 213.36,102.57 214.98,100.58 216.61,98.59 218.24,96.60"/></g>
<line x1="200.3" y1="151.0" x2="216" y2="151.0" stroke="#ff7f0e" stroke-width="1.4"/>
<text x="221.21" y="154.20" font-size="10.6" textLength="27.20" lengthAdjust="spacingAndGlyphs">DK 81</text>
<line x1="200.3" y1="160.1" x2="216" y2="160.1" stroke="#2ca02c" stroke-width="1.4"/>
<text x="221.02" y="163.70" font-size="10.6" textLength="26.74" lengthAdjust="spacingAndGlyphs">G+05</text>
<line x1="200.3" y1="169.9" x2="216" y2="169.9" stroke="#8c564b" stroke-width="1.4"/>
<text x="220.92" y="173.30" font-size="10.6" textLength="26.73" lengthAdjust="spacingAndGlyphs">G+06</text>
<line x1="200.3" y1="179.5" x2="216" y2="179.5" stroke="#d62728" stroke-width="1.4"/>
<text x="221.71" y="183.00" font-size="10.6" textLength="24.37" lengthAdjust="spacingAndGlyphs">AS 07</text>
<line x1="200.3" y1="189.2" x2="216" y2="189.2" stroke="#9467bd" stroke-width="1.4"/>
<text x="220.45" y="192.70" font-size="10.6" textLength="26.94" lengthAdjust="spacingAndGlyphs">R+09</text>
<polyline points="61.5,197 86,197 86.5,194.5 90,192.5 92,191.5 93.5,189 94.2,186 94.7,181 95.2,176 95.5,172 96.5,167 97.5,163 98.5,159 100,155 101,153 102.5,147 103.5,141 104.5,136 105.5,132 106,129 107.5,125 108.5,121 110,117 112,114 113.5,111.5 114.5,109.5 116.5,105.5 118.5,102.5 120,100 120.5,97 120.8,93 121.2,88.5 122.5,86 124,82 125,78 126,74 126.7,70 127.3,66 128.5,62 129.5,58.5 131.5,56 133,53 134.5,51 137,49.5 138.5,48 139,46 218.8,46" fill="none" stroke="#1f77b4" stroke-width="2.3" stroke-linejoin="round"/>
<rect x="51.8" y="38.6" width="254.80" height="165.70" fill="none" stroke="#000" stroke-width="1.1"/>
<path d="M62.00,204.3v-6M75.02,204.3v-2.8M88.04,204.3v-2.8M101.06,204.3v-2.8M114.08,204.3v-2.8M127.10,204.3v-6M140.12,204.3v-2.8M153.14,204.3v-2.8M166.16,204.3v-2.8M179.18,204.3v-2.8M192.20,204.3v-6M205.22,204.3v-2.8M218.24,204.3v-2.8M231.26,204.3v-2.8M244.28,204.3v-2.8M257.30,204.3v-6M270.32,204.3v-2.8M283.34,204.3v-2.8M296.36,204.3v-2.8M296.30,38.6v6M286.06,38.6v2.8M275.82,38.6v2.8M265.58,38.6v2.8M255.34,38.6v2.8M245.10,38.6v6M234.86,38.6v2.8M224.62,38.6v2.8M214.38,38.6v2.8M204.14,38.6v2.8M193.90,38.6v6M183.66,38.6v2.8M173.42,38.6v2.8M163.18,38.6v2.8M152.94,38.6v2.8M142.70,38.6v6M132.46,38.6v2.8M122.22,38.6v2.8M111.98,38.6v2.8M101.74,38.6v2.8M91.50,38.6v6M81.26,38.6v2.8M71.02,38.6v2.8M60.78,38.6v2.8M51.8,197.00h6M51.8,187.57h2.8M51.8,178.15h2.8M51.8,168.72h2.8M51.8,159.30h6M51.8,149.88h2.8M51.8,140.45h2.8M51.8,131.03h2.8M51.8,121.60h6M51.8,112.17h2.8M51.8,102.75h2.8M51.8,93.33h2.8M51.8,83.90h6M51.8,74.47h2.8M51.8,65.05h2.8M51.8,55.62h2.8M51.8,46.20h6" stroke="#000" stroke-width="1.1" fill="none"/>
<path d="M306.6,197.00h-6M306.6,187.57h-2.8M306.6,178.15h-2.8M306.6,168.72h-2.8M306.6,159.30h-6M306.6,149.88h-2.8M306.6,140.45h-2.8M306.6,131.03h-2.8M306.6,121.60h-6M306.6,112.17h-2.8M306.6,102.75h-2.8M306.6,93.33h-2.8M306.6,83.90h-6M306.6,74.47h-2.8M306.6,65.05h-2.8M306.6,55.62h-2.8M306.6,46.20h-6" stroke="#1f77b4" stroke-width="1.1" fill="none"/>
<text x="28.95" y="202.20" font-size="13.9" textLength="18.21" lengthAdjust="spacingAndGlyphs">0.0</text>
<text x="28.86" y="164.50" font-size="13.9" textLength="18.32" lengthAdjust="spacingAndGlyphs">2.5</text>
<text x="28.64" y="126.80" font-size="13.9" textLength="18.53" lengthAdjust="spacingAndGlyphs">5.0</text>
<text x="28.52" y="89.10" font-size="13.9" textLength="18.67" lengthAdjust="spacingAndGlyphs">7.5</text>
<text x="22.25" y="51.40" font-size="13.9" textLength="24.89" lengthAdjust="spacingAndGlyphs">10.0</text>
<text x="311.66" y="202.20" font-size="13.9" style="fill:#1f77b4" textLength="24.67" lengthAdjust="spacingAndGlyphs">0.00</text>
<text x="311.66" y="164.50" font-size="13.9" style="fill:#1f77b4" textLength="24.69" lengthAdjust="spacingAndGlyphs">0.25</text>
<text x="311.66" y="126.80" font-size="13.9" style="fill:#1f77b4" textLength="24.67" lengthAdjust="spacingAndGlyphs">0.50</text>
<text x="311.66" y="89.10" font-size="13.9" style="fill:#1f77b4" textLength="24.69" lengthAdjust="spacingAndGlyphs">0.75</text>
<text x="310.92" y="51.40" font-size="13.9" style="fill:#1f77b4" textLength="25.43" lengthAdjust="spacingAndGlyphs">1.00</text>
<text x="54.93" y="221.50" font-size="13.9" textLength="14.00" lengthAdjust="spacingAndGlyphs">30</text>
<text x="120.03" y="221.50" font-size="13.9" textLength="14.02" lengthAdjust="spacingAndGlyphs">35</text>
<text x="185.53" y="221.50" font-size="13.9" textLength="13.58" lengthAdjust="spacingAndGlyphs">40</text>
<text x="250.63" y="221.50" font-size="13.9" textLength="13.60" lengthAdjust="spacingAndGlyphs">45</text>
<text x="81.27" y="29.50" font-size="13.9" textLength="20.86" lengthAdjust="spacingAndGlyphs">820</text>
<text x="132.47" y="29.50" font-size="13.9" textLength="20.87" lengthAdjust="spacingAndGlyphs">815</text>
<text x="183.67" y="29.50" font-size="13.9" textLength="20.86" lengthAdjust="spacingAndGlyphs">810</text>
<text x="234.87" y="29.50" font-size="13.9" textLength="20.87" lengthAdjust="spacingAndGlyphs">805</text>
<text x="286.07" y="29.50" font-size="13.9" textLength="20.86" lengthAdjust="spacingAndGlyphs">800</text>
<text x="120.92" y="13.80" font-size="13.9" textLength="7.73" lengthAdjust="spacingAndGlyphs">2</text>
<text x="128.12" y="13.80" font-size="13.9" font-style="italic" textLength="7.05" lengthAdjust="spacingAndGlyphs">π</text>
<text x="137.50" y="17.30" font-size="20.5" textLength="6.00" lengthAdjust="spacingAndGlyphs">/</text>
<text x="145.57" y="13.80" font-size="13.9" font-style="italic" textLength="8.27" lengthAdjust="spacingAndGlyphs">P</text>
<text x="153.40" y="16.30" font-size="9.7" textLength="6.64" lengthAdjust="spacingAndGlyphs">S</text>
<text x="165.78" y="13.80" font-size="15.5" textLength="4.67" lengthAdjust="spacingAndGlyphs">(</text>
<text x="170.08" y="13.80" font-size="13.9" textLength="20.59" lengthAdjust="spacingAndGlyphs">deg</text>
<text x="195.91" y="13.80" font-size="13.9" textLength="19.75" lengthAdjust="spacingAndGlyphs">day</text>
<text x="217.44" y="7.60" font-size="9.2" textLength="9.70" lengthAdjust="spacingAndGlyphs">−</text>
<text x="226.43" y="7.60" font-size="9.2" textLength="4.40" lengthAdjust="spacingAndGlyphs">1</text>
<text x="231.85" y="13.80" font-size="15.5" textLength="4.67" lengthAdjust="spacingAndGlyphs">)</text>
<text x="129.68" y="236.80" font-size="13.9" font-style="italic" textLength="8.68" lengthAdjust="spacingAndGlyphs">P</text>
<text x="137.50" y="239.30" font-size="9.7" textLength="6.64" lengthAdjust="spacingAndGlyphs">S</text>
<text x="147.59" y="236.80" font-size="13.9" textLength="11.39" lengthAdjust="spacingAndGlyphs">−</text>
<text x="163.07" y="236.80" font-size="13.9" textLength="12.81" lengthAdjust="spacingAndGlyphs">10</text>
<text x="179.58" y="236.80" font-size="13.9" textLength="6.39" lengthAdjust="spacingAndGlyphs">h</text>
<text x="196.05" y="236.80" font-size="15.5" textLength="4.15" lengthAdjust="spacingAndGlyphs">(</text>
<text x="199.85" y="236.80" font-size="13.9" textLength="25.59" lengthAdjust="spacingAndGlyphs">min</text>
<text x="225.62" y="236.80" font-size="15.5" textLength="3.89" lengthAdjust="spacingAndGlyphs">)</text>
<g transform="rotate(-90)"><text x="-191.63" y="13.90" font-size="13.9" textLength="31.56" lengthAdjust="spacingAndGlyphs">RMS</text><text x="-156.70" y="13.90" font-size="13.9" textLength="11.79" lengthAdjust="spacingAndGlyphs">Δ</text><text x="-144.74" y="13.90" font-size="13.9" textLength="10.69" lengthAdjust="spacingAndGlyphs">Ω</text><text x="-133.67" y="15.60" font-size="9.7" textLength="5.40" lengthAdjust="spacingAndGlyphs">p</text><text x="-122.92" y="13.90" font-size="15.5" textLength="4.67" lengthAdjust="spacingAndGlyphs">(</text><text x="-118.14" y="13.90" font-size="13.9" textLength="21.42" lengthAdjust="spacingAndGlyphs">deg</text><text x="-92.54" y="13.90" font-size="13.9" textLength="21.60" lengthAdjust="spacingAndGlyphs">day</text><text x="-70.75" y="7.40" font-size="9.2" textLength="8.48" lengthAdjust="spacingAndGlyphs">−</text><text x="-62.12" y="7.40" font-size="9.2" textLength="4.69" lengthAdjust="spacingAndGlyphs">1</text><text x="-56.80" y="13.90" font-size="15.5" textLength="5.19" lengthAdjust="spacingAndGlyphs">)</text></g>
<g transform="rotate(-90)"><text x="-178.93" y="349.00" font-size="13.9" style="fill:#1f77b4" textLength="39.11" lengthAdjust="spacingAndGlyphs">Period</text><text x="-135.56" y="349.00" font-size="13.9" style="fill:#1f77b4" textLength="71.09" lengthAdjust="spacingAndGlyphs">distribution</text></g>
</svg></body></html>
